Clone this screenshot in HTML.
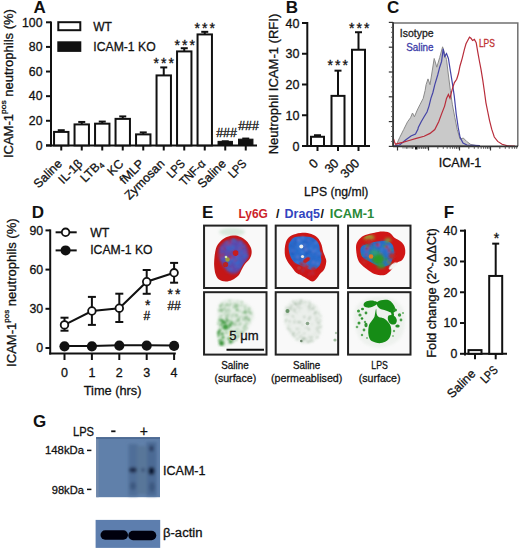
<!DOCTYPE html>
<html><head><meta charset="utf-8"><style>
html,body{margin:0;padding:0;background:#fff;}
svg{display:block;font-family:"Liberation Sans", sans-serif;}
</style></head><body>
<svg width="520" height="550" viewBox="0 0 520 550">
<rect width="520" height="550" fill="#fff"/>
<text x="33.4" y="12.9" font-size="17" text-anchor="start" fill="#111" font-weight="bold">A</text>
<line x1="51" y1="21.5" x2="51" y2="146.5" stroke="#111" stroke-width="2"/>
<line x1="46" y1="145.4" x2="257" y2="145.4" stroke="#111" stroke-width="2"/>
<line x1="46" y1="145.4" x2="51" y2="145.4" stroke="#111" stroke-width="2"/>
<text x="42.5" y="149.70000000000002" font-size="12.3" text-anchor="end" fill="#111" stroke="#111" stroke-width="0.3">0</text>
<line x1="46" y1="120.78" x2="51" y2="120.78" stroke="#111" stroke-width="2"/>
<text x="42.5" y="125.08" font-size="12.3" text-anchor="end" fill="#111" stroke="#111" stroke-width="0.3">20</text>
<line x1="46" y1="96.16" x2="51" y2="96.16" stroke="#111" stroke-width="2"/>
<text x="42.5" y="100.46" font-size="12.3" text-anchor="end" fill="#111" stroke="#111" stroke-width="0.3">40</text>
<line x1="46" y1="71.54" x2="51" y2="71.54" stroke="#111" stroke-width="2"/>
<text x="42.5" y="75.84" font-size="12.3" text-anchor="end" fill="#111" stroke="#111" stroke-width="0.3">60</text>
<line x1="46" y1="46.92" x2="51" y2="46.92" stroke="#111" stroke-width="2"/>
<text x="42.5" y="51.22" font-size="12.3" text-anchor="end" fill="#111" stroke="#111" stroke-width="0.3">80</text>
<line x1="46" y1="22.299999999999997" x2="51" y2="22.299999999999997" stroke="#111" stroke-width="2"/>
<text x="42.5" y="26.599999999999998" font-size="12.3" text-anchor="end" fill="#111" stroke="#111" stroke-width="0.3">100</text>
<line x1="61.25" y1="145.4" x2="61.25" y2="150.5" stroke="#111" stroke-width="2"/>
<line x1="61.25" y1="131.92040000000003" x2="61.25" y2="130.197" stroke="#111" stroke-width="2"/>
<line x1="57.75" y1="130.197" x2="64.75" y2="130.197" stroke="#111" stroke-width="2"/>
<rect x="54.05" y="131.92040000000003" width="14.4" height="13.479599999999976" fill="#fff" stroke="#111" stroke-width="2"/>
<line x1="81.75" y1="145.4" x2="81.75" y2="150.5" stroke="#111" stroke-width="2"/>
<line x1="81.75" y1="124.4113" x2="81.75" y2="121.94930000000001" stroke="#111" stroke-width="2"/>
<line x1="78.25" y1="121.94930000000001" x2="85.25" y2="121.94930000000001" stroke="#111" stroke-width="2"/>
<rect x="74.55" y="124.4113" width="14.4" height="20.98870000000001" fill="#fff" stroke="#111" stroke-width="2"/>
<line x1="102.25" y1="145.4" x2="102.25" y2="150.5" stroke="#111" stroke-width="2"/>
<line x1="102.25" y1="123.6727" x2="102.25" y2="121.58" stroke="#111" stroke-width="2"/>
<line x1="98.75" y1="121.58" x2="105.75" y2="121.58" stroke="#111" stroke-width="2"/>
<rect x="95.05" y="123.6727" width="14.4" height="21.7273" fill="#fff" stroke="#111" stroke-width="2"/>
<line x1="122.75" y1="145.4" x2="122.75" y2="150.5" stroke="#111" stroke-width="2"/>
<line x1="122.75" y1="118.8718" x2="122.75" y2="116.4098" stroke="#111" stroke-width="2"/>
<line x1="119.25" y1="116.4098" x2="126.25" y2="116.4098" stroke="#111" stroke-width="2"/>
<rect x="115.55" y="118.8718" width="14.4" height="26.528200000000012" fill="#fff" stroke="#111" stroke-width="2"/>
<line x1="143.25" y1="145.4" x2="143.25" y2="150.5" stroke="#111" stroke-width="2"/>
<line x1="143.25" y1="134.38240000000002" x2="143.25" y2="132.4128" stroke="#111" stroke-width="2"/>
<line x1="139.75" y1="132.4128" x2="146.75" y2="132.4128" stroke="#111" stroke-width="2"/>
<rect x="136.05" y="134.38240000000002" width="14.4" height="11.017599999999987" fill="#fff" stroke="#111" stroke-width="2"/>
<line x1="163.75" y1="145.4" x2="163.75" y2="150.5" stroke="#111" stroke-width="2"/>
<line x1="163.75" y1="75.4175" x2="163.75" y2="67.416" stroke="#111" stroke-width="2"/>
<line x1="160.25" y1="67.416" x2="167.25" y2="67.416" stroke="#111" stroke-width="2"/>
<rect x="156.55" y="75.4175" width="14.4" height="69.9825" fill="#fff" stroke="#111" stroke-width="2"/>
<line x1="184.25" y1="145.4" x2="184.25" y2="150.5" stroke="#111" stroke-width="2"/>
<line x1="184.25" y1="51.413" x2="184.25" y2="48.2124" stroke="#111" stroke-width="2"/>
<line x1="180.75" y1="48.2124" x2="187.75" y2="48.2124" stroke="#111" stroke-width="2"/>
<rect x="177.05" y="51.413" width="14.4" height="93.98700000000001" fill="#fff" stroke="#111" stroke-width="2"/>
<line x1="204.75" y1="145.4" x2="204.75" y2="150.5" stroke="#111" stroke-width="2"/>
<line x1="204.75" y1="34.425200000000004" x2="204.75" y2="31.840099999999996" stroke="#111" stroke-width="2"/>
<line x1="201.25" y1="31.840099999999996" x2="208.25" y2="31.840099999999996" stroke="#111" stroke-width="2"/>
<rect x="197.55" y="34.425200000000004" width="14.4" height="110.9748" fill="#fff" stroke="#111" stroke-width="2"/>
<line x1="225.25" y1="145.4" x2="225.25" y2="150.5" stroke="#111" stroke-width="2"/>
<rect x="218.05" y="141.3915" width="14.4" height="4.008499999999998" fill="#111" stroke="#111" stroke-width="1"/>
<line x1="221.75" y1="141.276" x2="228.75" y2="141.276" stroke="#111" stroke-width="2"/>
<line x1="245.75" y1="145.4" x2="245.75" y2="150.5" stroke="#111" stroke-width="2"/>
<rect x="238.55" y="139.1757" width="14.4" height="6.2242999999999995" fill="#111" stroke="#111" stroke-width="1"/>
<line x1="242.25" y1="138.5678" x2="249.25" y2="138.5678" stroke="#111" stroke-width="2"/>
<text x="62.8" y="164.5" font-size="12.3" text-anchor="end" fill="#111" stroke="#111" stroke-width="0.3" transform="rotate(-45 62.8 164.5)">Saline</text>
<text x="83.3" y="164.5" font-size="12.3" text-anchor="end" fill="#111" stroke="#111" stroke-width="0.3" transform="rotate(-45 83.3 164.5)">IL-1β</text>
<text x="103.8" y="164.5" font-size="12.3" text-anchor="end" fill="#111" stroke="#111" stroke-width="0.3" transform="rotate(-45 103.8 164.5)">LTB<tspan font-size="8" dy="2">4</tspan></text>
<text x="124.3" y="164.5" font-size="12.3" text-anchor="end" fill="#111" stroke="#111" stroke-width="0.3" transform="rotate(-45 124.3 164.5)">KC</text>
<text x="144.8" y="164.5" font-size="12.3" text-anchor="end" fill="#111" stroke="#111" stroke-width="0.3" transform="rotate(-45 144.8 164.5)">fMLP</text>
<text x="165.3" y="164.5" font-size="12.3" text-anchor="end" fill="#111" stroke="#111" stroke-width="0.3" transform="rotate(-45 165.3 164.5)">Zymosan</text>
<text x="185.8" y="164.5" font-size="12.3" text-anchor="end" fill="#111" stroke="#111" stroke-width="0.3" textLength="20" lengthAdjust="spacingAndGlyphs" transform="rotate(-45 185.8 164.5)">LPS</text>
<text x="206.3" y="164.5" font-size="12.3" text-anchor="end" fill="#111" stroke="#111" stroke-width="0.3" textLength="31" lengthAdjust="spacingAndGlyphs" transform="rotate(-45 206.3 164.5)">TNF-α</text>
<text x="226.8" y="164.5" font-size="12.3" text-anchor="end" fill="#111" stroke="#111" stroke-width="0.3" transform="rotate(-45 226.8 164.5)">Saline</text>
<text x="247.3" y="164.5" font-size="12.3" text-anchor="end" fill="#111" stroke="#111" stroke-width="0.3" textLength="20" lengthAdjust="spacingAndGlyphs" transform="rotate(-45 247.3 164.5)">LPS</text>
<text x="164.8" y="67.5" font-size="14" text-anchor="middle" fill="#111" stroke="#111" stroke-width="0.3" letter-spacing="2">***</text>
<text x="185.8" y="50" font-size="14" text-anchor="middle" fill="#111" stroke="#111" stroke-width="0.3" letter-spacing="2">***</text>
<text x="205.8" y="33" font-size="14" text-anchor="middle" fill="#111" stroke="#111" stroke-width="0.3" letter-spacing="2">***</text>
<text x="226.5" y="136.5" font-size="12.4" text-anchor="middle" fill="#111" stroke="#111" stroke-width="0.3">###</text>
<text x="248.5" y="130" font-size="12.4" text-anchor="middle" fill="#111" stroke="#111" stroke-width="0.3">###</text>
<rect x="58.3" y="22.2" width="22" height="8" fill="#fff" stroke="#111" stroke-width="2"/>
<rect x="57.3" y="41.3" width="24" height="10.6" fill="#111" stroke="none" stroke-width="0"/>
<text x="93.3" y="30.5" font-size="12" text-anchor="start" fill="#111" stroke="#111" stroke-width="0.3">WT</text>
<text x="93.3" y="51.3" font-size="13" text-anchor="start" fill="#111" stroke="#111" stroke-width="0.3" textLength="62.4" lengthAdjust="spacingAndGlyphs">ICAM-1 KO</text>
<text x="12.6" y="83.6" font-size="12.3" text-anchor="middle" fill="#111" stroke="#111" stroke-width="0.3" textLength="149" lengthAdjust="spacingAndGlyphs" transform="rotate(-90 12.6 83.6)">ICAM-1<tspan font-size="8" dy="-6.3">pos</tspan><tspan dy="6.3"> neutrophils (%)</tspan></text>
<text x="285.7" y="12.9" font-size="17" text-anchor="start" fill="#111" font-weight="bold">B</text>
<line x1="307.3" y1="22" x2="307.3" y2="147" stroke="#111" stroke-width="2"/>
<line x1="306.3" y1="146" x2="370" y2="146" stroke="#111" stroke-width="2"/>
<line x1="302" y1="146.0" x2="307.3" y2="146.0" stroke="#111" stroke-width="2"/>
<text x="299.5" y="150.5" font-size="12.5" text-anchor="end" fill="#111" stroke="#111" stroke-width="0.3">0</text>
<line x1="302" y1="115.25" x2="307.3" y2="115.25" stroke="#111" stroke-width="2"/>
<text x="299.5" y="119.75" font-size="12.5" text-anchor="end" fill="#111" stroke="#111" stroke-width="0.3">10</text>
<line x1="302" y1="84.5" x2="307.3" y2="84.5" stroke="#111" stroke-width="2"/>
<text x="299.5" y="89.0" font-size="12.5" text-anchor="end" fill="#111" stroke="#111" stroke-width="0.3">20</text>
<line x1="302" y1="53.75" x2="307.3" y2="53.75" stroke="#111" stroke-width="2"/>
<text x="299.5" y="58.25" font-size="12.5" text-anchor="end" fill="#111" stroke="#111" stroke-width="0.3">30</text>
<line x1="302" y1="23.0" x2="307.3" y2="23.0" stroke="#111" stroke-width="2"/>
<text x="299.5" y="27.5" font-size="12.5" text-anchor="end" fill="#111" stroke="#111" stroke-width="0.3">40</text>
<line x1="317.5" y1="136.775" x2="317.5" y2="135.2375" stroke="#111" stroke-width="2"/>
<line x1="314.0" y1="135.2375" x2="321.0" y2="135.2375" stroke="#111" stroke-width="2"/>
<rect x="311.0" y="136.775" width="13" height="9.224999999999994" fill="#fff" stroke="#111" stroke-width="2"/>
<line x1="317.5" y1="146" x2="317.5" y2="151" stroke="#111" stroke-width="2"/>
<line x1="338" y1="95.8775" x2="338" y2="70.6625" stroke="#111" stroke-width="2"/>
<line x1="334.5" y1="70.6625" x2="341.5" y2="70.6625" stroke="#111" stroke-width="2"/>
<rect x="331.5" y="95.8775" width="13" height="50.1225" fill="#fff" stroke="#111" stroke-width="2"/>
<line x1="338" y1="146" x2="338" y2="151" stroke="#111" stroke-width="2"/>
<line x1="358.5" y1="49.7525" x2="358.5" y2="32.224999999999994" stroke="#111" stroke-width="2"/>
<line x1="355.0" y1="32.224999999999994" x2="362.0" y2="32.224999999999994" stroke="#111" stroke-width="2"/>
<rect x="352.0" y="49.7525" width="13" height="96.2475" fill="#fff" stroke="#111" stroke-width="2"/>
<line x1="358.5" y1="146" x2="358.5" y2="151" stroke="#111" stroke-width="2"/>
<text x="319.0" y="164" font-size="12.5" text-anchor="end" fill="#111" stroke="#111" stroke-width="0.3" transform="rotate(-45 319.0 164)">0</text>
<text x="339.5" y="164" font-size="12.5" text-anchor="end" fill="#111" stroke="#111" stroke-width="0.3" transform="rotate(-45 339.5 164)">30</text>
<text x="360.25" y="164" font-size="12.5" text-anchor="end" fill="#111" stroke="#111" stroke-width="0.3" transform="rotate(-45 360.25 164)">300</text>
<text x="338.8" y="70" font-size="14" text-anchor="middle" fill="#111" stroke="#111" stroke-width="0.3" letter-spacing="2">***</text>
<text x="360.3" y="32.5" font-size="14" text-anchor="middle" fill="#111" stroke="#111" stroke-width="0.3" letter-spacing="2">***</text>
<text x="336.2" y="195.6" font-size="13" text-anchor="middle" fill="#111" stroke="#111" stroke-width="0.3" textLength="64.5" lengthAdjust="spacingAndGlyphs">LPS (ng/ml)</text>
<text x="277.6" y="84" font-size="12.3" text-anchor="middle" fill="#111" stroke="#111" stroke-width="0.3" textLength="140.6" lengthAdjust="spacingAndGlyphs" transform="rotate(-90 277.6 84)">Neutrophil ICAM-1 (RFI)</text>
<text x="387.1" y="13" font-size="17" text-anchor="start" fill="#111" font-weight="bold">C</text>
<polygon points="395.5,146.0 396.5,144.5 399.8,137.3 403.7,129.5 407.6,121.7 410.5,117.8 412.5,113.0 414.4,116.8 417.3,110.0 420.2,104.2 423.2,98.4 425.1,90.6 426.1,84.7 428.0,78.9 430.0,84.7 431.9,73.0 434.2,58.5 436.8,67.2 439.7,57.5 442.6,46.8 444.6,53.6 446.5,59.5 448.4,75.0 450.4,90.6 452.3,104.2 454.9,117.8 457.2,129.5 460.1,139.2 463.3,138.0 466.6,141.4 470.8,144.5 476.0,145.5" fill="#c9c9c9" stroke="#8a8a8a" stroke-width="1"/>
<polyline points="393.5,146.0 399.6,145.0 405.9,139.8 411.0,136.0 415.5,134.1 418.0,129.0 418.3,127.5 421.2,121.7 424.1,116.8 427.0,112.0 429.0,106.1 430.9,98.4 432.9,92.5 434.8,84.7 437.7,75.0 439.7,67.2 441.6,61.4 443.2,48.8 444.6,56.5 446.5,53.6 448.4,58.5 450.4,71.1 452.3,82.8 454.3,96.4 456.2,113.9 458.2,127.5 460.1,137.3 463.0,143.1 466.9,145.0 480.0,145.6" fill="none" stroke="#4444a6" stroke-width="1.2"/>
<polyline points="393.6,139.0 394.4,141.5 395.4,144.2 402.7,142.4 409.1,140.5 416.3,138.4 424.1,136.3 430.0,133.4 434.8,129.5 438.7,121.7 441.6,113.9 444.6,106.1 446.5,98.4 448.4,94.5 450.0,98.2 452.2,89.3 454.4,82.6 456.7,79.3 458.4,73.8 460.0,66.0 462.2,58.3 464.4,49.4 466.0,43.8 467.7,40.5 469.5,37.2 471.0,38.3 472.6,40.5 474.4,39.4 476.2,42.7 477.7,51.6 479.3,60.5 481.0,69.3 482.8,80.4 484.4,91.5 485.9,102.6 487.7,111.5 489.5,120.3 491.7,129.2 494.3,137.0 497.7,141.4 502.1,144.3 507.6,145.8 515.0,146.0" fill="none" stroke="#b82c3a" stroke-width="1.2"/>
<path d="M393.1,146.3 V22.9 H517.8 V146.3" fill="none" stroke="#707070" stroke-width="1.5"/>
<line x1="393.1" y1="22.2" x2="393.1" y2="147" stroke="#333" stroke-width="1.6"/>
<line x1="393" y1="146.4" x2="518" y2="146.4" stroke="#333" stroke-width="1.6"/>
<line x1="388.8" y1="146.4" x2="393.1" y2="146.4" stroke="#333" stroke-width="1.2"/>
<line x1="391.2" y1="141.44" x2="393.1" y2="141.44" stroke="#555" stroke-width="1"/>
<line x1="391.2" y1="136.48000000000002" x2="393.1" y2="136.48000000000002" stroke="#555" stroke-width="1"/>
<line x1="391.2" y1="131.52" x2="393.1" y2="131.52" stroke="#555" stroke-width="1"/>
<line x1="391.2" y1="126.56" x2="393.1" y2="126.56" stroke="#555" stroke-width="1"/>
<line x1="388.8" y1="121.60000000000001" x2="393.1" y2="121.60000000000001" stroke="#333" stroke-width="1.2"/>
<line x1="391.2" y1="116.64000000000001" x2="393.1" y2="116.64000000000001" stroke="#555" stroke-width="1"/>
<line x1="391.2" y1="111.68" x2="393.1" y2="111.68" stroke="#555" stroke-width="1"/>
<line x1="391.2" y1="106.72" x2="393.1" y2="106.72" stroke="#555" stroke-width="1"/>
<line x1="391.2" y1="101.76" x2="393.1" y2="101.76" stroke="#555" stroke-width="1"/>
<line x1="388.8" y1="96.80000000000001" x2="393.1" y2="96.80000000000001" stroke="#333" stroke-width="1.2"/>
<line x1="391.2" y1="91.84" x2="393.1" y2="91.84" stroke="#555" stroke-width="1"/>
<line x1="391.2" y1="86.88000000000001" x2="393.1" y2="86.88000000000001" stroke="#555" stroke-width="1"/>
<line x1="391.2" y1="81.92" x2="393.1" y2="81.92" stroke="#555" stroke-width="1"/>
<line x1="391.2" y1="76.96000000000001" x2="393.1" y2="76.96000000000001" stroke="#555" stroke-width="1"/>
<line x1="388.8" y1="72.0" x2="393.1" y2="72.0" stroke="#333" stroke-width="1.2"/>
<line x1="391.2" y1="67.04" x2="393.1" y2="67.04" stroke="#555" stroke-width="1"/>
<line x1="391.2" y1="62.08000000000001" x2="393.1" y2="62.08000000000001" stroke="#555" stroke-width="1"/>
<line x1="391.2" y1="57.120000000000005" x2="393.1" y2="57.120000000000005" stroke="#555" stroke-width="1"/>
<line x1="391.2" y1="52.16000000000001" x2="393.1" y2="52.16000000000001" stroke="#555" stroke-width="1"/>
<line x1="388.8" y1="47.2" x2="393.1" y2="47.2" stroke="#333" stroke-width="1.2"/>
<line x1="391.2" y1="42.24000000000001" x2="393.1" y2="42.24000000000001" stroke="#555" stroke-width="1"/>
<line x1="391.2" y1="37.28" x2="393.1" y2="37.28" stroke="#555" stroke-width="1"/>
<line x1="391.2" y1="32.32000000000001" x2="393.1" y2="32.32000000000001" stroke="#555" stroke-width="1"/>
<line x1="391.2" y1="27.360000000000014" x2="393.1" y2="27.360000000000014" stroke="#555" stroke-width="1"/>
<line x1="388.8" y1="22.400000000000006" x2="393.1" y2="22.400000000000006" stroke="#333" stroke-width="1.2"/>
<line x1="397.5" y1="146.4" x2="397.5" y2="150.5" stroke="#333" stroke-width="1.2"/>
<line x1="406.8319298655834" y1="146.4" x2="406.8319298655834" y2="148.8" stroke="#444" stroke-width="0.9"/>
<line x1="412.2907588963095" y1="146.4" x2="412.2907588963095" y2="148.8" stroke="#444" stroke-width="0.9"/>
<line x1="416.16385973116684" y1="146.4" x2="416.16385973116684" y2="148.8" stroke="#444" stroke-width="0.9"/>
<line x1="419.1680701344166" y1="146.4" x2="419.1680701344166" y2="148.8" stroke="#444" stroke-width="0.9"/>
<line x1="421.62268876189296" y1="146.4" x2="421.62268876189296" y2="148.8" stroke="#444" stroke-width="0.9"/>
<line x1="423.698039240442" y1="146.4" x2="423.698039240442" y2="148.8" stroke="#444" stroke-width="0.9"/>
<line x1="425.4957895967502" y1="146.4" x2="425.4957895967502" y2="148.8" stroke="#444" stroke-width="0.9"/>
<line x1="427.0815177926191" y1="146.4" x2="427.0815177926191" y2="148.8" stroke="#444" stroke-width="0.9"/>
<line x1="428.5" y1="146.4" x2="428.5" y2="150.5" stroke="#333" stroke-width="1.2"/>
<line x1="437.8319298655834" y1="146.4" x2="437.8319298655834" y2="148.8" stroke="#444" stroke-width="0.9"/>
<line x1="443.2907588963095" y1="146.4" x2="443.2907588963095" y2="148.8" stroke="#444" stroke-width="0.9"/>
<line x1="447.16385973116684" y1="146.4" x2="447.16385973116684" y2="148.8" stroke="#444" stroke-width="0.9"/>
<line x1="450.1680701344166" y1="146.4" x2="450.1680701344166" y2="148.8" stroke="#444" stroke-width="0.9"/>
<line x1="452.62268876189296" y1="146.4" x2="452.62268876189296" y2="148.8" stroke="#444" stroke-width="0.9"/>
<line x1="454.698039240442" y1="146.4" x2="454.698039240442" y2="148.8" stroke="#444" stroke-width="0.9"/>
<line x1="456.4957895967502" y1="146.4" x2="456.4957895967502" y2="148.8" stroke="#444" stroke-width="0.9"/>
<line x1="458.0815177926191" y1="146.4" x2="458.0815177926191" y2="148.8" stroke="#444" stroke-width="0.9"/>
<line x1="459.5" y1="146.4" x2="459.5" y2="150.5" stroke="#333" stroke-width="1.2"/>
<line x1="468.8319298655834" y1="146.4" x2="468.8319298655834" y2="148.8" stroke="#444" stroke-width="0.9"/>
<line x1="474.2907588963095" y1="146.4" x2="474.2907588963095" y2="148.8" stroke="#444" stroke-width="0.9"/>
<line x1="478.16385973116684" y1="146.4" x2="478.16385973116684" y2="148.8" stroke="#444" stroke-width="0.9"/>
<line x1="481.1680701344166" y1="146.4" x2="481.1680701344166" y2="148.8" stroke="#444" stroke-width="0.9"/>
<line x1="483.62268876189296" y1="146.4" x2="483.62268876189296" y2="148.8" stroke="#444" stroke-width="0.9"/>
<line x1="485.698039240442" y1="146.4" x2="485.698039240442" y2="148.8" stroke="#444" stroke-width="0.9"/>
<line x1="487.4957895967502" y1="146.4" x2="487.4957895967502" y2="148.8" stroke="#444" stroke-width="0.9"/>
<line x1="489.0815177926191" y1="146.4" x2="489.0815177926191" y2="148.8" stroke="#444" stroke-width="0.9"/>
<line x1="490.5" y1="146.4" x2="490.5" y2="150.5" stroke="#333" stroke-width="1.2"/>
<line x1="499.8319298655834" y1="146.4" x2="499.8319298655834" y2="148.8" stroke="#444" stroke-width="0.9"/>
<line x1="505.2907588963095" y1="146.4" x2="505.2907588963095" y2="148.8" stroke="#444" stroke-width="0.9"/>
<line x1="509.16385973116684" y1="146.4" x2="509.16385973116684" y2="148.8" stroke="#444" stroke-width="0.9"/>
<line x1="512.1680701344166" y1="146.4" x2="512.1680701344166" y2="148.8" stroke="#444" stroke-width="0.9"/>
<line x1="514.622688761893" y1="146.4" x2="514.622688761893" y2="148.8" stroke="#444" stroke-width="0.9"/>
<line x1="516.698039240442" y1="146.4" x2="516.698039240442" y2="148.8" stroke="#444" stroke-width="0.9"/>
<rect x="415" y="147" width="2.5" height="2.5" fill="#111" stroke="none" stroke-width="0"/>
<line x1="403" y1="146.4" x2="403" y2="148.6" stroke="#555" stroke-width="0.8"/>
<line x1="405" y1="146.4" x2="405" y2="148.6" stroke="#555" stroke-width="0.8"/>
<line x1="407" y1="146.4" x2="407" y2="148.6" stroke="#555" stroke-width="0.8"/>
<line x1="409" y1="146.4" x2="409" y2="148.6" stroke="#555" stroke-width="0.8"/>
<line x1="411" y1="146.4" x2="411" y2="148.6" stroke="#555" stroke-width="0.8"/>
<line x1="413" y1="146.4" x2="413" y2="148.6" stroke="#555" stroke-width="0.8"/>
<line x1="419" y1="146.4" x2="419" y2="148.6" stroke="#555" stroke-width="0.8"/>
<line x1="421" y1="146.4" x2="421" y2="148.6" stroke="#555" stroke-width="0.8"/>
<line x1="423" y1="146.4" x2="423" y2="148.6" stroke="#555" stroke-width="0.8"/>
<line x1="425" y1="146.4" x2="425" y2="148.6" stroke="#555" stroke-width="0.8"/>
<text x="399.8" y="37.2" font-size="11" text-anchor="start" fill="#222" stroke="#222" stroke-width="0.3" textLength="33.8" lengthAdjust="spacingAndGlyphs">Isotype</text>
<text x="406.2" y="51.2" font-size="11" text-anchor="start" fill="#3c3ca8" stroke="#3c3ca8" stroke-width="0.3" textLength="27.4" lengthAdjust="spacingAndGlyphs">Saline</text>
<text x="478.9" y="47.3" font-size="10.5" text-anchor="start" fill="#c03030" stroke="#c03030" stroke-width="0.3" textLength="16" lengthAdjust="spacingAndGlyphs">LPS</text>
<text x="438.8" y="167" font-size="12" text-anchor="start" fill="#111" stroke="#111" stroke-width="0.3" textLength="42.5" lengthAdjust="spacingAndGlyphs">ICAM-1</text>
<text x="31.7" y="218" font-size="17" text-anchor="start" fill="#111" font-weight="bold">D</text>
<line x1="50.2" y1="229.4" x2="50.2" y2="354.5" stroke="#111" stroke-width="2"/>
<line x1="49.2" y1="353.5" x2="175.8" y2="353.5" stroke="#111" stroke-width="2"/>
<line x1="45.5" y1="348.0" x2="50.2" y2="348.0" stroke="#111" stroke-width="2"/>
<text x="43.2" y="352.3" font-size="12.3" text-anchor="end" fill="#111" stroke="#111" stroke-width="0.3">0</text>
<line x1="45.5" y1="308.8" x2="50.2" y2="308.8" stroke="#111" stroke-width="2"/>
<text x="43.2" y="313.1" font-size="12.3" text-anchor="end" fill="#111" stroke="#111" stroke-width="0.3">30</text>
<line x1="45.5" y1="269.6" x2="50.2" y2="269.6" stroke="#111" stroke-width="2"/>
<text x="43.2" y="273.90000000000003" font-size="12.3" text-anchor="end" fill="#111" stroke="#111" stroke-width="0.3">60</text>
<line x1="45.5" y1="230.39999999999998" x2="50.2" y2="230.39999999999998" stroke="#111" stroke-width="2"/>
<text x="43.2" y="234.7" font-size="12.3" text-anchor="end" fill="#111" stroke="#111" stroke-width="0.3">90</text>
<line x1="64.5" y1="353.5" x2="64.5" y2="360" stroke="#111" stroke-width="2"/>
<text x="64.5" y="377" font-size="12.5" text-anchor="middle" fill="#111" stroke="#111" stroke-width="0.3">0</text>
<line x1="91.9" y1="353.5" x2="91.9" y2="360" stroke="#111" stroke-width="2"/>
<text x="91.9" y="377" font-size="12.5" text-anchor="middle" fill="#111" stroke="#111" stroke-width="0.3">1</text>
<line x1="119.3" y1="353.5" x2="119.3" y2="360" stroke="#111" stroke-width="2"/>
<text x="119.3" y="377" font-size="12.5" text-anchor="middle" fill="#111" stroke="#111" stroke-width="0.3">2</text>
<line x1="146.7" y1="353.5" x2="146.7" y2="360" stroke="#111" stroke-width="2"/>
<text x="146.7" y="377" font-size="12.5" text-anchor="middle" fill="#111" stroke="#111" stroke-width="0.3">3</text>
<line x1="174.1" y1="353.5" x2="174.1" y2="360" stroke="#111" stroke-width="2"/>
<text x="174.1" y="377" font-size="12.5" text-anchor="middle" fill="#111" stroke="#111" stroke-width="0.3">4</text>
<text x="112.6" y="395.2" font-size="13" text-anchor="middle" fill="#111" stroke="#111" stroke-width="0.3" textLength="57.7" lengthAdjust="spacingAndGlyphs">Time (hrs)</text>
<polyline points="64.5,346 91.9,346 119.3,345.3 146.7,345.3 174.1,345.6" fill="none" stroke="#111" stroke-width="2"/>
<circle cx="64.5" cy="346.3" r="5.1" fill="#111"/>
<circle cx="91.9" cy="346.3" r="5.1" fill="#111"/>
<circle cx="119.3" cy="345.6" r="5.1" fill="#111"/>
<circle cx="146.7" cy="345.6" r="5.1" fill="#111"/>
<circle cx="174.1" cy="345.90000000000003" r="5.1" fill="#111"/>
<line x1="64.5" y1="317.7" x2="64.5" y2="330.7" stroke="#111" stroke-width="2"/>
<line x1="60.5" y1="317.7" x2="68.5" y2="317.7" stroke="#111" stroke-width="2"/>
<line x1="60.5" y1="330.7" x2="68.5" y2="330.7" stroke="#111" stroke-width="2"/>
<line x1="91.9" y1="296.9" x2="91.9" y2="324.9" stroke="#111" stroke-width="2"/>
<line x1="87.9" y1="296.9" x2="95.9" y2="296.9" stroke="#111" stroke-width="2"/>
<line x1="87.9" y1="324.9" x2="95.9" y2="324.9" stroke="#111" stroke-width="2"/>
<line x1="119.3" y1="293.7" x2="119.3" y2="322" stroke="#111" stroke-width="2"/>
<line x1="115.3" y1="293.7" x2="123.3" y2="293.7" stroke="#111" stroke-width="2"/>
<line x1="115.3" y1="322" x2="123.3" y2="322" stroke="#111" stroke-width="2"/>
<line x1="146.7" y1="270" x2="146.7" y2="293.8" stroke="#111" stroke-width="2"/>
<line x1="142.7" y1="270" x2="150.7" y2="270" stroke="#111" stroke-width="2"/>
<line x1="142.7" y1="293.8" x2="150.7" y2="293.8" stroke="#111" stroke-width="2"/>
<line x1="174.1" y1="262.9" x2="174.1" y2="282.7" stroke="#111" stroke-width="2"/>
<line x1="170.1" y1="262.9" x2="178.1" y2="262.9" stroke="#111" stroke-width="2"/>
<line x1="170.1" y1="282.7" x2="178.1" y2="282.7" stroke="#111" stroke-width="2"/>
<polyline points="64.5,324.9 91.9,311 119.3,308.2 146.7,281.7 174.1,272.8" fill="none" stroke="#111" stroke-width="2"/>
<circle cx="64.5" cy="324.9" r="3.8" fill="#fff" stroke="#111" stroke-width="1.8"/>
<circle cx="91.9" cy="311" r="3.8" fill="#fff" stroke="#111" stroke-width="1.8"/>
<circle cx="119.3" cy="308.2" r="3.8" fill="#fff" stroke="#111" stroke-width="1.8"/>
<circle cx="146.7" cy="281.7" r="3.8" fill="#fff" stroke="#111" stroke-width="1.8"/>
<circle cx="174.1" cy="272.8" r="3.8" fill="#fff" stroke="#111" stroke-width="1.8"/>
<text x="147.7" y="309.8" font-size="14" text-anchor="middle" fill="#111" stroke="#111" stroke-width="0.3">*</text>
<text x="146.8" y="319.9" font-size="12" text-anchor="middle" fill="#111" stroke="#111" stroke-width="0.3">#</text>
<text x="175" y="299" font-size="14" text-anchor="middle" fill="#111" stroke="#111" stroke-width="0.3" letter-spacing="2">**</text>
<text x="174.1" y="309.7" font-size="12" text-anchor="middle" fill="#111" stroke="#111" stroke-width="0.3">##</text>
<line x1="55.6" y1="232.3" x2="76.7" y2="232.3" stroke="#111" stroke-width="2"/>
<circle cx="65.6" cy="232.3" r="3.8" fill="#fff" stroke="#111" stroke-width="1.8"/>
<line x1="55.6" y1="250.4" x2="76.7" y2="250.4" stroke="#111" stroke-width="2"/>
<circle cx="65.6" cy="250.4" r="5" fill="#111"/>
<text x="90.2" y="236.5" font-size="12.3" text-anchor="start" fill="#111" stroke="#111" stroke-width="0.3">WT</text>
<text x="90.2" y="254.4" font-size="13" text-anchor="start" fill="#111" stroke="#111" stroke-width="0.3" textLength="62.4" lengthAdjust="spacingAndGlyphs">ICAM-1 KO</text>
<text x="16.4" y="292.65" font-size="12.8" text-anchor="middle" fill="#111" stroke="#111" stroke-width="0.3" textLength="148.5" lengthAdjust="spacingAndGlyphs" transform="rotate(-90 16.4 292.65)">ICAM-1<tspan font-size="7.8" dy="-7">pos</tspan><tspan dy="7"> neutrophils (%)</tspan></text>
<text x="443.7" y="218" font-size="17" text-anchor="start" fill="#111" font-weight="bold">F</text>
<line x1="465.0" y1="229.4" x2="465.0" y2="355.4" stroke="#111" stroke-width="2"/>
<line x1="464.0" y1="353.8" x2="507" y2="353.8" stroke="#111" stroke-width="2"/>
<line x1="460" y1="353.8" x2="465.0" y2="353.8" stroke="#111" stroke-width="2"/>
<text x="457.3" y="358.1" font-size="12.3" text-anchor="end" fill="#111" stroke="#111" stroke-width="0.3">0</text>
<line x1="460" y1="323.03000000000003" x2="465.0" y2="323.03000000000003" stroke="#111" stroke-width="2"/>
<text x="457.3" y="327.33000000000004" font-size="12.3" text-anchor="end" fill="#111" stroke="#111" stroke-width="0.3">10</text>
<line x1="460" y1="292.26" x2="465.0" y2="292.26" stroke="#111" stroke-width="2"/>
<text x="457.3" y="296.56" font-size="12.3" text-anchor="end" fill="#111" stroke="#111" stroke-width="0.3">20</text>
<line x1="460" y1="261.49" x2="465.0" y2="261.49" stroke="#111" stroke-width="2"/>
<text x="457.3" y="265.79" font-size="12.3" text-anchor="end" fill="#111" stroke="#111" stroke-width="0.3">30</text>
<line x1="460" y1="230.72000000000003" x2="465.0" y2="230.72000000000003" stroke="#111" stroke-width="2"/>
<text x="457.3" y="235.02000000000004" font-size="12.3" text-anchor="end" fill="#111" stroke="#111" stroke-width="0.3">40</text>
<rect x="468.5" y="350.1076" width="13" height="3.6924000000000206" fill="#fff" stroke="#111" stroke-width="2"/>
<line x1="475" y1="353.8" x2="475" y2="359.3" stroke="#111" stroke-width="2"/>
<line x1="495.7" y1="275.9519" x2="495.7" y2="243.64340000000004" stroke="#111" stroke-width="2"/>
<line x1="492.2" y1="243.64340000000004" x2="499.2" y2="243.64340000000004" stroke="#111" stroke-width="2"/>
<rect x="489.2" y="275.9519" width="13" height="77.84809999999999" fill="#fff" stroke="#111" stroke-width="2"/>
<line x1="495.7" y1="353.8" x2="495.7" y2="359.3" stroke="#111" stroke-width="2"/>
<text x="496.5" y="243.2" font-size="14" text-anchor="middle" fill="#111" stroke="#111" stroke-width="0.3">*</text>
<text x="476.3" y="374.5" font-size="12.3" text-anchor="end" fill="#111" stroke="#111" stroke-width="0.3" transform="rotate(-45 476.3 374.5)">Saline</text>
<text x="498.5" y="371" font-size="12.3" text-anchor="end" fill="#111" stroke="#111" stroke-width="0.3" textLength="18.5" lengthAdjust="spacingAndGlyphs" transform="rotate(-45 498.5 371)">LPS</text>
<text x="436.4" y="293" font-size="12.6" text-anchor="middle" fill="#111" stroke="#111" stroke-width="0.3" textLength="129.5" lengthAdjust="spacingAndGlyphs" transform="rotate(-90 436.4 293)">Fold change (2^-ΔΔCt)</text>
<text x="33" y="426.6" font-size="17" text-anchor="start" fill="#111" font-weight="bold">G</text>
<text x="73" y="435.6" font-size="12" text-anchor="start" fill="#111" stroke="#111" stroke-width="0.3" textLength="21" lengthAdjust="spacingAndGlyphs">LPS</text>
<line x1="111.2" y1="431.3" x2="115.5" y2="431.3" stroke="#111" stroke-width="1.8"/>
<text x="143.8" y="435.6" font-size="14" text-anchor="middle" fill="#111" stroke="#111" stroke-width="0.3">+</text>
<rect x="96.2" y="437.2" width="63.8" height="60" fill="#6080aa" stroke="none" stroke-width="0"/>
<rect x="96.2" y="437.2" width="2.5" height="60" fill="#7088aa"/>
<rect x="96.2" y="437.2" width="63.8" height="1.6" fill="#4a6790"/>
<g filter="url(#b2)"><rect x="128.5" y="444" width="9" height="52" fill="#506e98"/><rect x="146.5" y="442" width="10" height="54" fill="#4c6a94"/><rect x="137" y="446" width="10" height="48" fill="#587699"/><ellipse cx="133" cy="470" rx="4" ry="2.8" fill="#1c2c4c"/><ellipse cx="151.5" cy="471" rx="3.2" ry="4" fill="#0c1630"/><ellipse cx="151.5" cy="448.5" rx="2.2" ry="3" fill="#2a3c60"/><ellipse cx="143" cy="470" rx="2" ry="2" fill="#3a5278"/><ellipse cx="133" cy="486" rx="3" ry="4" fill="#3e5880"/><ellipse cx="152" cy="487" rx="3" ry="5" fill="#3e5880"/></g>
<rect x="95.6" y="519.9" width="64.6" height="28" fill="#5d7eae" stroke="none" stroke-width="0"/>
<g filter="url(#b1)"><rect x="100.5" y="530.3" width="27.5" height="9.4" rx="4.7" fill="#05060c"/><rect x="128.3" y="530.8" width="28" height="9.4" rx="4.7" fill="#05060c"/></g>
<text x="84" y="454.4" font-size="11.5" text-anchor="end" fill="#111" stroke="#111" stroke-width="0.3" textLength="39" lengthAdjust="spacingAndGlyphs">148kDa</text>
<text x="84" y="493.5" font-size="11.5" text-anchor="end" fill="#111" stroke="#111" stroke-width="0.3" textLength="32.3" lengthAdjust="spacingAndGlyphs">98kDa</text>
<line x1="87" y1="450.4" x2="91.4" y2="450.4" stroke="#111" stroke-width="1.5"/>
<line x1="87" y1="489.4" x2="91.4" y2="489.4" stroke="#111" stroke-width="1.5"/>
<text x="163" y="474.5" font-size="12.5" text-anchor="start" fill="#111" stroke="#111" stroke-width="0.3" textLength="42.5" lengthAdjust="spacingAndGlyphs">ICAM-1</text>
<text x="163" y="536.5" font-size="12.5" text-anchor="start" fill="#111" stroke="#111" stroke-width="0.3" textLength="39.5" lengthAdjust="spacingAndGlyphs">β-actin</text>
<text x="202" y="218" font-size="17" text-anchor="start" fill="#111" font-weight="bold">E</text>
<defs><filter id="b1" x="-20%" y="-20%" width="140%" height="140%"><feGaussianBlur stdDeviation="0.7"/></filter><filter id="b15" x="-20%" y="-20%" width="140%" height="140%"><feGaussianBlur stdDeviation="0.9"/></filter><filter id="b2" x="-30%" y="-30%" width="160%" height="160%"><feGaussianBlur stdDeviation="1.6"/></filter><filter id="b3" x="-30%" y="-30%" width="160%" height="160%"><feGaussianBlur stdDeviation="3"/></filter></defs>
<rect x="204.05" y="225.6" width="62.45" height="62.4" fill="#f9f9f9"/>
<rect x="204.05" y="292.2" width="62.45" height="62.4" fill="#f9f9f9"/>
<rect x="275.7" y="225.6" width="62.45" height="62.4" fill="#f9f9f9"/>
<rect x="275.7" y="292.2" width="62.45" height="62.4" fill="#f9f9f9"/>
<rect x="348.05" y="225.6" width="62.45" height="62.4" fill="#f9f9f9"/>
<rect x="348.05" y="292.2" width="62.45" height="62.4" fill="#f9f9f9"/>
<ellipse cx="232" cy="232" rx="13" ry="4" fill="#b8d8c0" opacity="0.5" filter="url(#b2)"/>
<path d="M232.90,235.60 C235.57,235.32 237.73,235.90 240.00,236.80 C242.27,237.70 244.67,239.13 246.50,241.00 C248.33,242.87 250.17,245.83 251.00,248.00 C251.83,250.17 251.75,252.17 251.50,254.00 C251.25,255.83 250.58,257.33 249.50,259.00 C248.42,260.67 246.25,262.33 245.00,264.00 C243.75,265.67 243.08,267.08 242.00,269.00 C240.92,270.92 240.17,273.67 238.50,275.50 C236.83,277.33 234.15,279.00 232.00,280.00 C229.85,281.00 227.77,281.58 225.60,281.50 C223.43,281.42 220.68,280.75 219.00,279.50 C217.32,278.25 216.30,276.25 215.50,274.00 C214.70,271.75 214.40,268.42 214.20,266.00 C214.00,263.58 214.13,261.83 214.30,259.50 C214.47,257.17 214.67,254.43 215.20,252.00 C215.73,249.57 216.03,247.15 217.50,244.90 C218.97,242.65 221.43,240.05 224.00,238.50 C226.57,236.95 230.23,235.88 232.90,235.60 Z" fill="#c51515" filter="url(#b1)"/>
<clipPath id="cl1"><path d="M232.82,237.46 C235.27,237.20 237.27,237.73 239.35,238.56 C241.44,239.39 243.65,240.71 245.33,242.43 C247.02,244.14 248.71,246.87 249.47,248.87 C250.24,250.86 250.16,252.70 249.93,254.39 C249.70,256.07 249.09,257.45 248.09,258.99 C247.10,260.52 245.10,262.05 243.95,263.59 C242.80,265.12 242.19,266.42 241.19,268.19 C240.20,269.95 239.51,272.48 237.97,274.17 C236.44,275.85 233.97,277.39 231.99,278.31 C230.01,279.23 228.10,279.76 226.10,279.69 C224.11,279.61 221.58,279.00 220.03,277.85 C218.48,276.70 217.55,274.86 216.81,272.79 C216.08,270.72 215.80,267.65 215.62,265.43 C215.43,263.20 215.55,261.59 215.71,259.45 C215.86,257.30 216.05,254.78 216.54,252.55 C217.03,250.31 217.30,248.08 218.65,246.01 C220.00,243.94 222.27,241.55 224.63,240.13 C226.99,238.70 230.37,237.72 232.82,237.46 Z"/></clipPath>
<g clip-path="url(#cl1)">
<path d="M220.00,247.00 C221.17,244.75 223.67,242.75 226.00,241.50 C228.33,240.25 231.33,239.42 234.00,239.50 C236.67,239.58 239.83,240.58 242.00,242.00 C244.17,243.42 246.00,245.83 247.00,248.00 C248.00,250.17 248.17,252.67 248.00,255.00 C247.83,257.33 247.00,259.83 246.00,262.00 C245.00,264.17 243.58,266.17 242.00,268.00 C240.42,269.83 238.50,272.17 236.50,273.00 C234.50,273.83 231.92,273.83 230.00,273.00 C228.08,272.17 226.50,269.83 225.00,268.00 C223.50,266.17 222.00,264.17 221.00,262.00 C220.00,259.83 219.17,257.50 219.00,255.00 C218.83,252.50 218.83,249.25 220.00,247.00 Z" fill="#5d48ac" filter="url(#b2)"/>
<ellipse cx="238" cy="262" rx="4" ry="6" fill="#3468cc" filter="url(#b2)"/>
<ellipse cx="230" cy="248" rx="4" ry="3" fill="#4060c4" filter="url(#b2)"/>
<ellipse cx="241" cy="250" rx="3" ry="4" fill="#4a58bc" filter="url(#b2)"/>
<g filter="url(#b15)"><circle cx="232.1" cy="258.3" r="1.72" fill="#3a68c8"/><circle cx="232.1" cy="268.1" r="0.99" fill="#7a4aa0"/><circle cx="232.8" cy="260.1" r="0.99" fill="#3a68c8"/><circle cx="227.8" cy="242.5" r="1.61" fill="#b02a40"/><circle cx="237.4" cy="259.4" r="1.20" fill="#3a68c8"/><circle cx="238.0" cy="260.1" r="0.96" fill="#5d48ac"/><circle cx="236.4" cy="265.6" r="1.13" fill="#7a4aa0"/><circle cx="243.4" cy="256.9" r="1.44" fill="#3a68c8"/><circle cx="238.0" cy="253.1" r="1.35" fill="#5d48ac"/><circle cx="239.5" cy="250.1" r="1.03" fill="#6a50b0"/><circle cx="227.4" cy="241.7" r="0.82" fill="#b02a40"/><circle cx="245.4" cy="255.2" r="1.78" fill="#3a68c8"/><circle cx="231.2" cy="258.5" r="1.00" fill="#b02a40"/><circle cx="226.8" cy="242.4" r="1.13" fill="#3a68c8"/><circle cx="241.0" cy="243.5" r="1.05" fill="#5d48ac"/><circle cx="219.3" cy="255.1" r="1.29" fill="#b02a40"/><circle cx="235.2" cy="254.5" r="0.99" fill="#b02a40"/><circle cx="241.3" cy="253.5" r="1.18" fill="#3a68c8"/><circle cx="231.2" cy="246.6" r="1.07" fill="#7a4aa0"/><circle cx="227.8" cy="269.1" r="1.01" fill="#3a68c8"/><circle cx="235.7" cy="240.9" r="0.95" fill="#3a68c8"/><circle cx="226.5" cy="265.4" r="1.13" fill="#6a50b0"/><circle cx="230.2" cy="242.0" r="1.01" fill="#b02a40"/><circle cx="226.0" cy="259.6" r="1.17" fill="#3a68c8"/><circle cx="222.7" cy="259.2" r="1.63" fill="#4a58bc"/><circle cx="244.1" cy="245.6" r="0.95" fill="#4a58bc"/><circle cx="242.7" cy="247.9" r="0.99" fill="#b02a40"/><circle cx="237.2" cy="258.1" r="1.49" fill="#3a68c8"/><circle cx="244.6" cy="259.7" r="1.22" fill="#5d48ac"/><circle cx="222.2" cy="256.7" r="1.06" fill="#b02a40"/><circle cx="239.4" cy="248.1" r="1.62" fill="#7a4aa0"/><circle cx="233.2" cy="256.9" r="1.73" fill="#5d48ac"/><circle cx="222.7" cy="255.6" r="1.45" fill="#7a4aa0"/><circle cx="236.8" cy="248.9" r="1.72" fill="#4a58bc"/><circle cx="240.7" cy="241.8" r="1.21" fill="#4a58bc"/><circle cx="229.7" cy="258.7" r="0.93" fill="#6a50b0"/><circle cx="223.0" cy="254.6" r="1.13" fill="#b02a40"/><circle cx="239.0" cy="259.1" r="0.94" fill="#5d48ac"/><circle cx="245.8" cy="255.4" r="1.16" fill="#6a50b0"/><circle cx="237.4" cy="255.7" r="1.53" fill="#6a50b0"/><circle cx="232.1" cy="251.8" r="0.84" fill="#b02a40"/><circle cx="240.4" cy="243.8" r="1.76" fill="#6a50b0"/><circle cx="229.2" cy="262.5" r="1.70" fill="#3a68c8"/><circle cx="233.5" cy="240.0" r="1.46" fill="#3a68c8"/><circle cx="235.9" cy="259.9" r="0.88" fill="#b02a40"/><circle cx="222.4" cy="248.1" r="1.22" fill="#6a50b0"/><circle cx="230.3" cy="264.1" r="1.38" fill="#3a68c8"/><circle cx="232.4" cy="257.6" r="1.32" fill="#7a4aa0"/><circle cx="232.9" cy="247.2" r="1.50" fill="#3a68c8"/><circle cx="241.6" cy="261.6" r="1.29" fill="#5d48ac"/><circle cx="229.7" cy="244.3" r="1.41" fill="#7a4aa0"/><circle cx="238.1" cy="254.3" r="1.69" fill="#6a50b0"/><circle cx="230.7" cy="247.9" r="1.43" fill="#4a58bc"/><circle cx="244.5" cy="252.4" r="1.38" fill="#6a50b0"/><circle cx="225.1" cy="244.0" r="1.15" fill="#5d48ac"/><circle cx="227.0" cy="245.2" r="1.25" fill="#6a50b0"/><circle cx="230.1" cy="256.9" r="1.47" fill="#b02a40"/><circle cx="232.1" cy="242.0" r="0.83" fill="#7a4aa0"/><circle cx="235.5" cy="249.9" r="1.59" fill="#5d48ac"/><circle cx="237.6" cy="253.1" r="0.99" fill="#6a50b0"/><circle cx="225.9" cy="244.2" r="0.85" fill="#b02a40"/><circle cx="234.5" cy="260.9" r="1.17" fill="#5d48ac"/><circle cx="238.9" cy="246.2" r="1.28" fill="#4a58bc"/><circle cx="239.7" cy="264.8" r="1.33" fill="#5d48ac"/><circle cx="224.2" cy="248.6" r="1.15" fill="#b02a40"/><circle cx="246.5" cy="256.3" r="1.80" fill="#4a58bc"/><circle cx="230.4" cy="266.0" r="1.71" fill="#5d48ac"/><circle cx="230.9" cy="269.4" r="1.19" fill="#3a68c8"/><circle cx="232.2" cy="260.5" r="1.71" fill="#3a68c8"/><circle cx="235.0" cy="261.4" r="1.30" fill="#6a50b0"/></g>
<circle cx="235.6" cy="253.1" r="2.8" fill="#c81a1a" filter="url(#b1)"/>
<circle cx="225.6" cy="264.5" r="2.6" fill="#b82020" filter="url(#b1)"/>
<circle cx="227.5" cy="259.5" r="2.2" fill="#9a9a38" filter="url(#b1)"/>
<circle cx="226" cy="257" r="1.3" fill="#d8e8b0" filter="url(#b1)"/>
</g>
<path d="M285.00,246.50 C285.42,243.79 286.04,240.98 287.50,239.00 C288.96,237.02 291.25,235.64 293.75,234.60 C296.25,233.56 299.58,232.85 302.50,232.75 C305.42,232.65 308.75,233.17 311.25,234.00 C313.75,234.83 315.83,236.08 317.50,237.75 C319.17,239.42 320.32,241.71 321.25,244.00 C322.18,246.29 322.48,249.42 323.10,251.50 C323.73,253.58 324.48,254.83 325.00,256.50 C325.52,258.17 326.35,259.42 326.25,261.50 C326.15,263.58 325.44,266.92 324.40,269.00 C323.36,271.08 321.36,272.33 320.00,274.00 C318.64,275.67 317.50,277.75 316.25,279.00 C315.00,280.25 313.96,281.50 312.50,281.50 C311.04,281.50 309.38,280.04 307.50,279.00 C305.62,277.96 303.12,276.29 301.25,275.25 C299.38,274.21 297.92,274.21 296.25,272.75 C294.58,271.29 292.71,268.38 291.25,266.50 C289.79,264.62 288.54,263.38 287.50,261.50 C286.46,259.62 285.42,257.75 285.00,255.25 C284.58,252.75 284.58,249.21 285.00,246.50 Z" fill="#cc1414" filter="url(#b1)"/>
<clipPath id="cl2"><path d="M286.74,247.39 C287.12,244.90 287.70,242.31 289.04,240.49 C290.38,238.66 292.49,237.40 294.79,236.44 C297.09,235.48 300.16,234.83 302.84,234.74 C305.52,234.65 308.59,235.12 310.89,235.89 C313.19,236.65 315.11,237.80 316.64,239.34 C318.17,240.87 319.23,242.98 320.09,245.09 C320.95,247.20 321.22,250.07 321.79,251.99 C322.37,253.90 323.06,255.05 323.54,256.59 C324.02,258.12 324.78,259.27 324.69,261.19 C324.60,263.10 323.95,266.17 322.99,268.09 C322.03,270.00 320.19,271.15 318.94,272.69 C317.69,274.22 316.64,276.14 315.49,277.29 C314.34,278.44 313.38,279.59 312.04,279.59 C310.70,279.59 309.17,278.25 307.44,277.29 C305.71,276.33 303.42,274.80 301.69,273.84 C299.96,272.88 298.62,272.88 297.09,271.54 C295.56,270.20 293.83,267.51 292.49,265.79 C291.15,264.06 290.00,262.91 289.04,261.19 C288.08,259.46 287.12,257.74 286.74,255.44 C286.36,253.14 286.36,249.88 286.74,247.39 Z"/></clipPath>
<g clip-path="url(#cl2)">
<path d="M288.75,245.25 C289.38,242.33 291.46,239.21 293.75,237.75 C296.04,236.29 299.38,236.50 302.50,236.50 C305.62,236.50 309.79,236.50 312.50,237.75 C315.21,239.00 317.50,241.50 318.75,244.00 C320.00,246.50 319.58,250.04 320.00,252.75 C320.42,255.46 321.46,257.96 321.25,260.25 C321.04,262.54 320.21,264.83 318.75,266.50 C317.29,268.17 314.58,270.04 312.50,270.25 C310.42,270.46 308.33,268.58 306.25,267.75 C304.17,266.92 302.08,266.29 300.00,265.25 C297.92,264.21 295.42,263.17 293.75,261.50 C292.08,259.83 290.83,257.96 290.00,255.25 C289.17,252.54 288.12,248.17 288.75,245.25 Z" fill="#2c6ccc" filter="url(#b1)"/>
<g filter="url(#b15)"><circle cx="303.8" cy="258.5" r="1.00" fill="#5a7ad0"/><circle cx="316.9" cy="263.4" r="1.72" fill="#2a6ccc"/><circle cx="306.2" cy="263.2" r="1.12" fill="#5a7ad0"/><circle cx="316.6" cy="248.3" r="0.88" fill="#4a6ac8"/><circle cx="299.9" cy="250.7" r="1.08" fill="#2a6ccc"/><circle cx="302.7" cy="237.7" r="1.33" fill="#5a7ad0"/><circle cx="314.4" cy="241.2" r="0.95" fill="#1e5cc0"/><circle cx="318.0" cy="254.0" r="1.48" fill="#4a6ac8"/><circle cx="319.5" cy="253.1" r="1.75" fill="#2a6ccc"/><circle cx="313.4" cy="251.3" r="1.36" fill="#5a7ad0"/><circle cx="307.0" cy="242.0" r="1.31" fill="#1e5cc0"/><circle cx="297.1" cy="259.2" r="1.75" fill="#1e5cc0"/><circle cx="320.2" cy="254.2" r="1.37" fill="#3a7ad8"/><circle cx="302.1" cy="240.4" r="0.80" fill="#4a6ac8"/><circle cx="305.5" cy="250.0" r="1.60" fill="#1e5cc0"/><circle cx="292.7" cy="239.6" r="0.97" fill="#1e5cc0"/><circle cx="314.8" cy="250.1" r="1.05" fill="#4a6ac8"/><circle cx="292.9" cy="251.1" r="1.62" fill="#4a6ac8"/><circle cx="305.8" cy="240.2" r="1.22" fill="#2a6ccc"/><circle cx="295.1" cy="244.2" r="1.49" fill="#2a62c0"/><circle cx="312.3" cy="244.8" r="1.30" fill="#4a6ac8"/><circle cx="312.5" cy="240.6" r="1.31" fill="#2a62c0"/><circle cx="312.1" cy="260.2" r="1.68" fill="#2a6ccc"/><circle cx="301.0" cy="250.5" r="1.33" fill="#3a7ad8"/><circle cx="306.2" cy="265.7" r="1.33" fill="#3a7ad8"/><circle cx="306.0" cy="265.2" r="1.41" fill="#3a7ad8"/><circle cx="296.3" cy="261.5" r="1.61" fill="#3a7ad8"/><circle cx="299.0" cy="247.1" r="1.72" fill="#3a7ad8"/><circle cx="314.0" cy="243.1" r="0.90" fill="#3a7ad8"/><circle cx="293.1" cy="239.5" r="1.19" fill="#4a6ac8"/><circle cx="315.8" cy="250.7" r="1.59" fill="#3a7ad8"/><circle cx="295.3" cy="257.7" r="1.60" fill="#2a6ccc"/><circle cx="295.3" cy="259.5" r="1.71" fill="#2a62c0"/><circle cx="292.5" cy="253.6" r="1.56" fill="#1e5cc0"/><circle cx="314.8" cy="252.8" r="0.82" fill="#1e5cc0"/><circle cx="308.7" cy="267.0" r="1.28" fill="#3a7ad8"/><circle cx="294.7" cy="243.4" r="1.64" fill="#2a62c0"/><circle cx="303.8" cy="262.3" r="1.13" fill="#4a6ac8"/><circle cx="302.6" cy="248.5" r="1.01" fill="#2a62c0"/><circle cx="316.2" cy="242.6" r="1.25" fill="#5a7ad0"/><circle cx="308.4" cy="239.7" r="1.59" fill="#2a62c0"/><circle cx="317.8" cy="263.6" r="1.50" fill="#5a7ad0"/><circle cx="319.3" cy="255.7" r="0.99" fill="#1e5cc0"/><circle cx="312.9" cy="262.8" r="1.61" fill="#4a6ac8"/><circle cx="293.1" cy="247.6" r="1.34" fill="#2a62c0"/><circle cx="313.7" cy="262.3" r="1.21" fill="#5a7ad0"/><circle cx="298.6" cy="239.9" r="1.69" fill="#5a7ad0"/><circle cx="298.5" cy="243.8" r="1.21" fill="#3a7ad8"/><circle cx="306.1" cy="249.6" r="1.80" fill="#5a7ad0"/><circle cx="295.7" cy="240.5" r="1.20" fill="#1e5cc0"/><circle cx="312.8" cy="245.2" r="1.20" fill="#2a6ccc"/><circle cx="313.5" cy="258.4" r="0.81" fill="#2a62c0"/><circle cx="306.6" cy="253.6" r="1.77" fill="#1e5cc0"/><circle cx="303.2" cy="258.3" r="1.35" fill="#5a7ad0"/><circle cx="304.1" cy="242.2" r="1.30" fill="#1e5cc0"/><circle cx="308.1" cy="251.0" r="1.29" fill="#2a62c0"/><circle cx="305.9" cy="256.7" r="1.17" fill="#2a62c0"/><circle cx="304.5" cy="245.6" r="1.73" fill="#5a7ad0"/><circle cx="312.0" cy="246.5" r="0.81" fill="#3a7ad8"/><circle cx="307.8" cy="257.9" r="1.21" fill="#5a7ad0"/><circle cx="302.7" cy="252.6" r="1.77" fill="#3a7ad8"/><circle cx="315.1" cy="267.2" r="0.94" fill="#3a7ad8"/><circle cx="308.4" cy="240.4" r="1.42" fill="#4a6ac8"/><circle cx="300.3" cy="241.7" r="1.16" fill="#3a7ad8"/><circle cx="310.5" cy="251.9" r="1.06" fill="#1e5cc0"/><circle cx="310.9" cy="248.8" r="1.54" fill="#3a7ad8"/><circle cx="319.7" cy="261.3" r="1.04" fill="#2a6ccc"/><circle cx="305.1" cy="246.9" r="1.31" fill="#2a62c0"/><circle cx="297.7" cy="257.1" r="1.53" fill="#5a7ad0"/><circle cx="308.0" cy="257.9" r="1.55" fill="#3a7ad8"/><circle cx="319.7" cy="253.4" r="1.45" fill="#3a7ad8"/><circle cx="290.7" cy="245.6" r="1.23" fill="#1e5cc0"/><circle cx="290.0" cy="244.0" r="1.08" fill="#2a6ccc"/><circle cx="304.5" cy="248.5" r="1.14" fill="#4a6ac8"/><circle cx="313.0" cy="264.8" r="0.87" fill="#2a6ccc"/><circle cx="303.3" cy="264.2" r="1.64" fill="#3a7ad8"/><circle cx="303.2" cy="261.7" r="1.19" fill="#3a7ad8"/><circle cx="300.7" cy="258.6" r="1.79" fill="#2a62c0"/><circle cx="298.2" cy="262.1" r="1.63" fill="#3a7ad8"/><circle cx="302.6" cy="249.0" r="0.90" fill="#2a62c0"/></g>
<g filter="url(#b15)"><circle cx="301.4" cy="263.2" r="1.36" fill="#a83050"/><circle cx="314.7" cy="268.5" r="1.62" fill="#c02020"/><circle cx="301.4" cy="265.0" r="1.46" fill="#c02020"/><circle cx="312.5" cy="268.9" r="1.56" fill="#a83050"/><circle cx="305.1" cy="264.0" r="1.16" fill="#d02020"/><circle cx="305.8" cy="268.2" r="1.39" fill="#d02020"/><circle cx="305.7" cy="267.6" r="1.73" fill="#d02020"/><circle cx="304.5" cy="267.1" r="1.17" fill="#a83050"/><circle cx="312.2" cy="270.2" r="1.60" fill="#d02020"/><circle cx="310.1" cy="273.2" r="1.34" fill="#d02020"/><circle cx="313.7" cy="274.3" r="1.08" fill="#c02020"/><circle cx="302.9" cy="266.1" r="0.82" fill="#a83050"/><circle cx="313.4" cy="271.1" r="1.05" fill="#c02020"/><circle cx="308.8" cy="274.7" r="1.14" fill="#a83050"/><circle cx="307.1" cy="266.7" r="1.77" fill="#d02020"/><circle cx="302.5" cy="268.8" r="1.60" fill="#c02020"/><circle cx="312.7" cy="274.8" r="1.21" fill="#d02020"/><circle cx="308.4" cy="269.6" r="0.82" fill="#a83050"/><circle cx="312.8" cy="273.2" r="1.22" fill="#a83050"/><circle cx="302.9" cy="270.9" r="1.48" fill="#a83050"/></g>
<circle cx="301.3" cy="246.5" r="2" fill="#f0f0f0" filter="url(#b1)"/>
<circle cx="302.5" cy="256.5" r="1.6" fill="#e8e8e8" filter="url(#b1)"/>
<ellipse cx="306.5" cy="260" rx="4" ry="2" fill="#c42020" transform="rotate(-35 306.5 260)" filter="url(#b1)"/>
<circle cx="299" cy="268" r="2" fill="#c03030" filter="url(#b1)"/>
</g>
<path d="M356.40,244.00 C357.12,241.50 358.98,239.32 360.75,237.75 C362.52,236.18 364.71,235.43 367.00,234.60 C369.29,233.77 372.00,233.27 374.50,232.75 C377.00,232.23 379.50,231.50 382.00,231.50 C384.50,231.50 387.42,231.71 389.50,232.75 C391.58,233.79 392.62,236.29 394.50,237.75 C396.38,239.21 399.08,240.04 400.75,241.50 C402.42,242.96 403.77,244.42 404.50,246.50 C405.23,248.58 405.52,251.71 405.10,254.00 C404.68,256.29 403.35,258.79 402.00,260.25 C400.65,261.71 398.46,261.50 397.00,262.75 C395.54,264.00 394.71,266.08 393.25,267.75 C391.79,269.42 389.92,271.50 388.25,272.75 C386.58,274.00 385.54,275.04 383.25,275.25 C380.96,275.46 377.00,274.83 374.50,274.00 C372.00,273.17 370.33,271.71 368.25,270.25 C366.17,268.79 363.67,266.92 362.00,265.25 C360.33,263.58 359.18,262.33 358.25,260.25 C357.32,258.17 356.71,255.46 356.40,252.75 C356.09,250.04 355.67,246.50 356.40,244.00 Z" fill="#d01818" filter="url(#b1)"/>
<clipPath id="cl3"><path d="M357.63,244.44 C358.31,242.06 360.08,239.99 361.76,238.50 C363.44,237.01 365.52,236.30 367.70,235.51 C369.87,234.71 372.45,234.24 374.82,233.75 C377.20,233.26 379.57,232.56 381.95,232.56 C384.32,232.56 387.09,232.76 389.07,233.75 C391.05,234.74 392.04,237.11 393.82,238.50 C395.60,239.88 398.17,240.68 399.76,242.06 C401.34,243.45 402.63,244.83 403.32,246.81 C404.01,248.79 404.29,251.76 403.89,253.94 C403.49,256.11 402.23,258.49 400.95,259.87 C399.66,261.26 397.58,261.06 396.20,262.25 C394.81,263.44 394.02,265.42 392.63,267.00 C391.25,268.58 389.47,270.56 387.88,271.75 C386.30,272.94 385.31,273.93 383.13,274.12 C380.96,274.32 377.20,273.73 374.82,272.94 C372.45,272.14 370.86,270.76 368.88,269.37 C366.90,267.99 364.53,266.21 362.95,264.62 C361.36,263.04 360.27,261.85 359.38,259.87 C358.50,257.89 357.92,255.32 357.63,252.75 C357.33,250.18 356.94,246.81 357.63,244.44 Z"/></clipPath>
<g clip-path="url(#cl3)">
<path d="M360.75,247.75 C361.58,245.67 364.29,245.04 367.00,244.00 C369.71,242.96 373.46,241.92 377.00,241.50 C380.54,241.08 385.54,240.67 388.25,241.50 C390.96,242.33 392.42,244.21 393.25,246.50 C394.08,248.79 393.67,252.54 393.25,255.25 C392.83,257.96 392.21,260.88 390.75,262.75 C389.29,264.62 386.79,266.08 384.50,266.50 C382.21,266.92 379.50,266.08 377.00,265.25 C374.50,264.42 372.00,262.96 369.50,261.50 C367.00,260.04 363.46,258.79 362.00,256.50 C360.54,254.21 359.92,249.83 360.75,247.75 Z" fill="#2a6ec8" filter="url(#b1)"/>
<g filter="url(#b15)"><circle cx="367.4" cy="252.1" r="1.09" fill="#2a6ec8"/><circle cx="376.1" cy="259.8" r="1.10" fill="#2a6ec8"/><circle cx="386.0" cy="246.0" r="0.86" fill="#2a9a3a"/><circle cx="386.8" cy="249.3" r="1.00" fill="#3a7ad0"/><circle cx="367.8" cy="247.4" r="1.52" fill="#c82020"/><circle cx="377.3" cy="252.5" r="1.69" fill="#2a9a3a"/><circle cx="370.9" cy="255.2" r="1.62" fill="#2a9a3a"/><circle cx="388.5" cy="253.6" r="1.20" fill="#3a7ad0"/><circle cx="382.2" cy="260.8" r="0.89" fill="#2a6ec8"/><circle cx="373.7" cy="246.9" r="0.93" fill="#2a9a3a"/><circle cx="385.9" cy="261.2" r="0.86" fill="#2a6ec8"/><circle cx="389.7" cy="263.4" r="1.71" fill="#2a9a3a"/><circle cx="386.6" cy="259.3" r="1.41" fill="#2a6ec8"/><circle cx="374.3" cy="260.8" r="0.94" fill="#c82020"/><circle cx="380.9" cy="254.4" r="0.85" fill="#c82020"/><circle cx="385.8" cy="241.5" r="1.62" fill="#2a6ec8"/><circle cx="387.5" cy="243.6" r="1.07" fill="#2a62c0"/><circle cx="377.9" cy="263.7" r="1.49" fill="#2a6ec8"/><circle cx="391.8" cy="256.2" r="1.66" fill="#3a7ad0"/><circle cx="367.0" cy="258.6" r="1.58" fill="#2a9a3a"/><circle cx="367.5" cy="255.1" r="1.33" fill="#2a6ec8"/><circle cx="371.0" cy="251.6" r="1.36" fill="#2a9a3a"/><circle cx="382.4" cy="243.2" r="0.87" fill="#2a6ec8"/><circle cx="364.2" cy="251.4" r="1.26" fill="#2a6ec8"/><circle cx="382.0" cy="241.8" r="1.18" fill="#2a62c0"/><circle cx="376.2" cy="248.8" r="0.91" fill="#2a6ec8"/><circle cx="388.6" cy="262.6" r="1.52" fill="#c82020"/><circle cx="365.7" cy="257.2" r="1.74" fill="#2a62c0"/><circle cx="370.4" cy="249.9" r="1.19" fill="#2a62c0"/><circle cx="363.6" cy="246.2" r="1.18" fill="#2a6ec8"/><circle cx="379.0" cy="259.6" r="1.13" fill="#2a9a3a"/><circle cx="383.8" cy="246.0" r="1.20" fill="#2a9a3a"/><circle cx="380.0" cy="243.8" r="1.03" fill="#2a6ec8"/><circle cx="392.8" cy="252.3" r="1.57" fill="#3a7ad0"/><circle cx="390.7" cy="252.2" r="1.31" fill="#2a62c0"/><circle cx="367.4" cy="245.2" r="1.49" fill="#2a9a3a"/><circle cx="371.5" cy="251.8" r="0.82" fill="#2a9a3a"/><circle cx="380.7" cy="249.4" r="1.59" fill="#2a6ec8"/><circle cx="382.2" cy="256.7" r="0.82" fill="#3a7ad0"/><circle cx="366.9" cy="249.2" r="1.24" fill="#c82020"/><circle cx="373.0" cy="254.2" r="1.59" fill="#2a6ec8"/><circle cx="380.6" cy="245.5" r="1.57" fill="#3a7ad0"/><circle cx="378.6" cy="250.3" r="1.30" fill="#2a6ec8"/><circle cx="379.4" cy="246.5" r="1.73" fill="#2a62c0"/><circle cx="383.7" cy="264.9" r="1.37" fill="#2a6ec8"/><circle cx="381.1" cy="246.4" r="0.88" fill="#2a6ec8"/><circle cx="376.3" cy="251.9" r="1.13" fill="#2a6ec8"/><circle cx="390.9" cy="250.5" r="1.26" fill="#2a6ec8"/><circle cx="375.4" cy="259.7" r="1.04" fill="#c82020"/><circle cx="378.4" cy="255.5" r="1.36" fill="#3a7ad0"/><circle cx="389.9" cy="249.9" r="0.95" fill="#2a6ec8"/><circle cx="368.6" cy="255.8" r="1.63" fill="#2a6ec8"/><circle cx="380.2" cy="261.8" r="1.25" fill="#2a9a3a"/><circle cx="391.3" cy="258.0" r="1.11" fill="#2a62c0"/><circle cx="388.3" cy="264.2" r="1.42" fill="#2a62c0"/><circle cx="386.9" cy="241.9" r="1.00" fill="#2a9a3a"/><circle cx="361.8" cy="254.7" r="0.92" fill="#2a9a3a"/><circle cx="366.4" cy="254.5" r="1.06" fill="#c82020"/><circle cx="386.2" cy="259.5" r="1.59" fill="#2a9a3a"/><circle cx="391.9" cy="256.5" r="1.27" fill="#2a9a3a"/><circle cx="379.1" cy="251.7" r="1.08" fill="#2a9a3a"/><circle cx="388.0" cy="262.9" r="1.21" fill="#2a9a3a"/><circle cx="391.3" cy="249.8" r="1.32" fill="#2a9a3a"/><circle cx="390.1" cy="249.5" r="0.85" fill="#2a62c0"/><circle cx="380.8" cy="252.3" r="1.18" fill="#3a7ad0"/><circle cx="385.2" cy="249.1" r="1.39" fill="#2a6ec8"/><circle cx="392.4" cy="253.4" r="0.91" fill="#2a6ec8"/><circle cx="378.5" cy="257.9" r="1.74" fill="#2a6ec8"/><circle cx="389.1" cy="250.7" r="1.35" fill="#c82020"/><circle cx="386.9" cy="247.0" r="1.55" fill="#c82020"/><circle cx="377.6" cy="244.7" r="1.68" fill="#c82020"/><circle cx="368.7" cy="249.0" r="1.12" fill="#2a6ec8"/><circle cx="375.1" cy="252.8" r="1.33" fill="#2a6ec8"/><circle cx="372.3" cy="256.1" r="0.85" fill="#2a6ec8"/><circle cx="375.5" cy="249.3" r="1.12" fill="#2a6ec8"/><circle cx="376.1" cy="246.7" r="1.10" fill="#2a62c0"/><circle cx="389.9" cy="246.4" r="1.64" fill="#3a7ad0"/><circle cx="381.4" cy="258.9" r="1.36" fill="#c82020"/><circle cx="381.3" cy="246.3" r="1.68" fill="#2a6ec8"/><circle cx="381.9" cy="249.2" r="1.62" fill="#3a7ad0"/></g>
<ellipse cx="378" cy="259" rx="6" ry="5.5" fill="#2a9a2a" filter="url(#b2)"/>
<ellipse cx="374.5" cy="252.5" rx="3" ry="3" fill="#30a070" filter="url(#b2)"/>
<ellipse cx="381" cy="266" rx="4" ry="2.5" fill="#3a9a2a" filter="url(#b2)"/>
<ellipse cx="369" cy="237.5" rx="5.5" ry="3" fill="#9a9a30" filter="url(#b2)"/>
<ellipse cx="388" cy="240" rx="3" ry="2" fill="#8a9a30" filter="url(#b2)"/>
<circle cx="371" cy="256.5" r="2.3" fill="#e07a20" filter="url(#b1)"/>
<circle cx="369" cy="242" r="3" fill="#c82020" filter="url(#b2)"/>
<circle cx="392" cy="256" r="3" fill="#c82020" filter="url(#b2)"/>
<circle cx="364" cy="262" r="3" fill="#c82020" filter="url(#b2)"/>
</g>
<ellipse cx="393" cy="266" rx="5" ry="2" fill="#f4f4f4" transform="rotate(-40 393 266)" filter="url(#b1)"/>
<path d="M219.00,305.00 C220.00,302.08 221.83,301.42 224.00,300.50 C226.17,299.58 229.33,299.42 232.00,299.50 C234.67,299.58 237.50,300.25 240.00,301.00 C242.50,301.75 245.00,302.67 247.00,304.00 C249.00,305.33 250.83,307.00 252.00,309.00 C253.17,311.00 254.08,313.83 254.00,316.00 C253.92,318.17 252.50,320.00 251.50,322.00 C250.50,324.00 249.42,326.00 248.00,328.00 C246.58,330.00 245.00,332.00 243.00,334.00 C241.00,336.00 238.33,338.17 236.00,340.00 C233.67,341.83 231.33,344.00 229.00,345.00 C226.67,346.00 223.75,346.83 222.00,346.00 C220.25,345.17 219.17,342.67 218.50,340.00 C217.83,337.33 218.08,333.67 218.00,330.00 C217.92,326.33 217.83,322.17 218.00,318.00 C218.17,313.83 218.00,307.92 219.00,305.00 Z" fill="#dbe8db" opacity="0.7" filter="url(#b2)"/>
<g filter="url(#b15)"><circle cx="229.0" cy="305.5" r="1.10" fill="#a0c4a0"/><circle cx="237.4" cy="316.3" r="0.63" fill="#a0c4a0"/><circle cx="218.3" cy="323.4" r="0.75" fill="#2a8a2a"/><circle cx="233.0" cy="339.3" r="0.59" fill="#4a9a4a"/><circle cx="221.0" cy="309.2" r="1.07" fill="#88b888"/><circle cx="239.1" cy="317.8" r="0.86" fill="#6aaa6a"/><circle cx="250.3" cy="312.5" r="1.03" fill="#88b888"/><circle cx="221.8" cy="303.9" r="0.64" fill="#88b888"/><circle cx="228.3" cy="338.8" r="0.98" fill="#3a9a3a"/><circle cx="223.2" cy="327.1" r="0.70" fill="#2a8a2a"/><circle cx="241.6" cy="316.6" r="0.91" fill="#a0c4a0"/><circle cx="237.9" cy="301.1" r="0.68" fill="#a0c4a0"/><circle cx="243.2" cy="319.4" r="0.75" fill="#6aaa6a"/><circle cx="228.6" cy="327.3" r="0.92" fill="#3a9a3a"/><circle cx="234.1" cy="313.0" r="0.50" fill="#88b888"/><circle cx="225.8" cy="326.7" r="1.29" fill="#3a9a3a"/><circle cx="245.2" cy="312.4" r="1.06" fill="#4a9a4a"/><circle cx="232.7" cy="335.9" r="0.93" fill="#6aaa6a"/><circle cx="222.1" cy="322.4" r="0.90" fill="#5aa85a"/><circle cx="246.6" cy="326.7" r="0.54" fill="#88b888"/><circle cx="251.0" cy="313.7" r="1.10" fill="#a0c4a0"/><circle cx="243.8" cy="327.7" r="0.72" fill="#4a9a4a"/><circle cx="239.2" cy="320.8" r="0.95" fill="#a0c4a0"/><circle cx="235.0" cy="331.2" r="0.67" fill="#4a9a4a"/><circle cx="218.4" cy="333.1" r="1.28" fill="#2a8a2a"/><circle cx="248.9" cy="312.2" r="0.88" fill="#88b888"/><circle cx="231.4" cy="331.4" r="0.87" fill="#2a8a2a"/><circle cx="222.7" cy="303.9" r="0.76" fill="#88b888"/><circle cx="218.4" cy="336.4" r="0.83" fill="#3a9a3a"/><circle cx="221.2" cy="310.4" r="0.97" fill="#88b888"/><circle cx="231.6" cy="341.6" r="1.32" fill="#3a9a3a"/><circle cx="219.2" cy="320.5" r="0.98" fill="#5aa85a"/><circle cx="227.1" cy="318.8" r="0.93" fill="#6aaa6a"/><circle cx="230.4" cy="342.2" r="1.35" fill="#2a8a2a"/><circle cx="223.0" cy="309.6" r="0.77" fill="#a0c4a0"/><circle cx="225.3" cy="322.2" r="1.15" fill="#2a8a2a"/><circle cx="239.6" cy="311.1" r="0.79" fill="#88b888"/><circle cx="230.8" cy="326.3" r="0.79" fill="#5aa85a"/><circle cx="236.6" cy="328.9" r="0.75" fill="#a0c4a0"/><circle cx="231.7" cy="317.9" r="0.68" fill="#88b888"/><circle cx="220.1" cy="329.7" r="1.22" fill="#5aa85a"/><circle cx="224.4" cy="306.1" r="0.74" fill="#88b888"/><circle cx="229.6" cy="300.6" r="0.68" fill="#6aaa6a"/><circle cx="220.1" cy="316.2" r="0.57" fill="#a0c4a0"/><circle cx="240.6" cy="305.4" r="0.55" fill="#6aaa6a"/><circle cx="226.1" cy="315.4" r="0.83" fill="#a0c4a0"/><circle cx="230.6" cy="304.1" r="1.04" fill="#a0c4a0"/><circle cx="234.6" cy="322.2" r="0.76" fill="#a0c4a0"/><circle cx="229.7" cy="311.2" r="0.65" fill="#6aaa6a"/><circle cx="237.1" cy="305.3" r="0.71" fill="#6aaa6a"/><circle cx="226.4" cy="316.3" r="0.69" fill="#4a9a4a"/><circle cx="222.7" cy="336.6" r="0.88" fill="#3a9a3a"/><circle cx="237.3" cy="337.0" r="1.03" fill="#6aaa6a"/><circle cx="229.2" cy="309.2" r="0.73" fill="#a0c4a0"/><circle cx="225.1" cy="323.9" r="1.07" fill="#5aa85a"/><circle cx="226.4" cy="332.6" r="0.89" fill="#3a9a3a"/><circle cx="224.8" cy="309.3" r="0.80" fill="#4a9a4a"/><circle cx="223.9" cy="308.2" r="0.58" fill="#88b888"/><circle cx="249.6" cy="322.0" r="0.56" fill="#6aaa6a"/><circle cx="219.4" cy="331.0" r="0.97" fill="#2a8a2a"/><circle cx="246.0" cy="321.9" r="0.76" fill="#a0c4a0"/><circle cx="223.1" cy="337.5" r="1.29" fill="#3a9a3a"/><circle cx="229.3" cy="338.0" r="0.79" fill="#2a8a2a"/><circle cx="245.0" cy="306.5" r="0.93" fill="#a0c4a0"/><circle cx="221.1" cy="305.6" r="1.08" fill="#a0c4a0"/><circle cx="221.8" cy="339.3" r="0.70" fill="#3a9a3a"/><circle cx="230.0" cy="325.4" r="1.35" fill="#3a9a3a"/><circle cx="233.4" cy="341.6" r="1.08" fill="#a0c4a0"/><circle cx="249.0" cy="308.6" r="0.97" fill="#6aaa6a"/><circle cx="226.1" cy="312.6" r="0.59" fill="#6aaa6a"/><circle cx="225.6" cy="327.3" r="1.38" fill="#5aa85a"/><circle cx="226.4" cy="319.0" r="1.06" fill="#4a9a4a"/><circle cx="221.2" cy="343.5" r="1.19" fill="#5aa85a"/><circle cx="230.2" cy="320.9" r="0.76" fill="#3a9a3a"/><circle cx="236.1" cy="324.6" r="0.50" fill="#4a9a4a"/><circle cx="233.6" cy="307.2" r="0.64" fill="#6aaa6a"/><circle cx="222.9" cy="321.7" r="1.15" fill="#2a8a2a"/><circle cx="245.0" cy="325.8" r="1.08" fill="#88b888"/><circle cx="229.0" cy="323.9" r="0.88" fill="#5aa85a"/><circle cx="238.2" cy="337.2" r="0.92" fill="#a0c4a0"/><circle cx="220.2" cy="326.0" r="0.77" fill="#2a8a2a"/><circle cx="225.9" cy="311.8" r="0.81" fill="#88b888"/><circle cx="246.9" cy="323.4" r="0.73" fill="#6aaa6a"/><circle cx="238.5" cy="336.0" r="0.97" fill="#6aaa6a"/><circle cx="240.5" cy="323.3" r="0.51" fill="#4a9a4a"/><circle cx="236.5" cy="332.6" r="1.10" fill="#88b888"/><circle cx="234.1" cy="324.7" r="1.08" fill="#88b888"/><circle cx="220.9" cy="320.1" r="1.29" fill="#5aa85a"/><circle cx="218.9" cy="310.0" r="0.79" fill="#6aaa6a"/><circle cx="218.9" cy="331.5" r="1.08" fill="#2a8a2a"/><circle cx="222.2" cy="333.8" r="1.37" fill="#2a8a2a"/><circle cx="242.4" cy="305.1" r="0.53" fill="#88b888"/><circle cx="231.9" cy="322.4" r="1.05" fill="#2a8a2a"/><circle cx="222.5" cy="319.6" r="0.55" fill="#a0c4a0"/><circle cx="236.6" cy="315.0" r="0.90" fill="#6aaa6a"/><circle cx="223.8" cy="313.9" r="0.64" fill="#88b888"/><circle cx="238.2" cy="320.0" r="0.92" fill="#4a9a4a"/><circle cx="241.0" cy="323.6" r="0.72" fill="#a0c4a0"/><circle cx="220.2" cy="311.3" r="0.62" fill="#a0c4a0"/><circle cx="226.8" cy="304.5" r="0.94" fill="#88b888"/><circle cx="248.8" cy="310.9" r="0.62" fill="#4a9a4a"/><circle cx="222.0" cy="344.0" r="0.92" fill="#2a8a2a"/><circle cx="238.8" cy="333.0" r="0.64" fill="#6aaa6a"/><circle cx="243.5" cy="319.3" r="0.66" fill="#6aaa6a"/><circle cx="219.3" cy="340.8" r="0.78" fill="#3a9a3a"/><circle cx="234.2" cy="315.0" r="0.87" fill="#a0c4a0"/><circle cx="226.7" cy="304.5" r="0.79" fill="#6aaa6a"/><circle cx="237.1" cy="309.9" r="1.07" fill="#4a9a4a"/><circle cx="220.4" cy="306.1" r="1.05" fill="#6aaa6a"/><circle cx="228.5" cy="313.3" r="0.63" fill="#4a9a4a"/><circle cx="246.4" cy="312.5" r="0.75" fill="#6aaa6a"/><circle cx="236.0" cy="306.9" r="0.61" fill="#4a9a4a"/><circle cx="245.3" cy="325.6" r="1.04" fill="#a0c4a0"/><circle cx="223.6" cy="321.7" r="1.21" fill="#3a9a3a"/><circle cx="248.8" cy="319.6" r="1.06" fill="#4a9a4a"/><circle cx="235.8" cy="339.7" r="0.61" fill="#88b888"/><circle cx="231.7" cy="323.3" r="1.36" fill="#5aa85a"/><circle cx="229.7" cy="339.6" r="1.03" fill="#5aa85a"/><circle cx="244.3" cy="329.8" r="0.90" fill="#88b888"/><circle cx="232.2" cy="315.4" r="1.00" fill="#a0c4a0"/><circle cx="218.8" cy="335.0" r="1.01" fill="#3a9a3a"/><circle cx="226.2" cy="306.2" r="0.50" fill="#4a9a4a"/><circle cx="219.4" cy="340.1" r="0.76" fill="#3a9a3a"/><circle cx="227.3" cy="310.1" r="1.07" fill="#a0c4a0"/><circle cx="227.7" cy="321.0" r="1.09" fill="#2a8a2a"/><circle cx="222.3" cy="320.3" r="0.97" fill="#2a8a2a"/><circle cx="228.4" cy="315.8" r="0.99" fill="#88b888"/><circle cx="235.0" cy="323.1" r="0.55" fill="#a0c4a0"/><circle cx="224.0" cy="323.2" r="1.03" fill="#5aa85a"/><circle cx="219.6" cy="318.0" r="0.82" fill="#88b888"/><circle cx="228.2" cy="309.6" r="0.62" fill="#a0c4a0"/><circle cx="239.4" cy="324.5" r="0.94" fill="#88b888"/><circle cx="231.6" cy="314.3" r="0.52" fill="#a0c4a0"/><circle cx="245.0" cy="330.2" r="0.65" fill="#a0c4a0"/><circle cx="221.6" cy="324.2" r="1.24" fill="#5aa85a"/><circle cx="236.2" cy="339.7" r="0.73" fill="#4a9a4a"/><circle cx="243.3" cy="332.7" r="0.54" fill="#a0c4a0"/><circle cx="221.3" cy="316.0" r="0.65" fill="#4a9a4a"/><circle cx="220.2" cy="339.8" r="0.74" fill="#5aa85a"/><circle cx="238.3" cy="329.4" r="0.72" fill="#88b888"/><circle cx="241.0" cy="332.0" r="1.07" fill="#88b888"/><circle cx="236.1" cy="324.8" r="0.66" fill="#4a9a4a"/><circle cx="245.5" cy="310.6" r="1.05" fill="#88b888"/><circle cx="219.0" cy="311.3" r="0.50" fill="#88b888"/><circle cx="245.2" cy="308.3" r="0.51" fill="#4a9a4a"/><circle cx="235.8" cy="317.1" r="0.56" fill="#6aaa6a"/><circle cx="235.2" cy="332.2" r="1.07" fill="#a0c4a0"/><circle cx="246.7" cy="328.8" r="0.97" fill="#a0c4a0"/><circle cx="241.7" cy="301.9" r="0.99" fill="#a0c4a0"/><circle cx="221.9" cy="310.7" r="1.06" fill="#6aaa6a"/><circle cx="245.7" cy="313.2" r="0.51" fill="#6aaa6a"/><circle cx="242.9" cy="332.6" r="0.99" fill="#88b888"/><circle cx="243.0" cy="312.5" r="0.86" fill="#6aaa6a"/><circle cx="236.7" cy="321.2" r="1.02" fill="#88b888"/><circle cx="234.7" cy="303.9" r="0.72" fill="#a0c4a0"/></g>
<circle cx="225.5" cy="327" r="2.8" fill="#3a9a3a" filter="url(#b2)"/>
<circle cx="221.5" cy="343" r="2.4" fill="#2a8a2a" filter="url(#b2)"/>
<circle cx="236" cy="306" r="2" fill="#8aba8a" filter="url(#b2)"/>
<circle cx="246" cy="318" r="2" fill="#7aaa7a" filter="url(#b2)"/>
<path d="M285.00,308.00 C286.25,304.50 289.33,302.42 292.00,301.00 C294.67,299.58 297.83,299.33 301.00,299.50 C304.17,299.67 308.17,300.58 311.00,302.00 C313.83,303.42 316.33,305.67 318.00,308.00 C319.67,310.33 320.33,313.00 321.00,316.00 C321.67,319.00 322.17,322.83 322.00,326.00 C321.83,329.17 321.33,332.50 320.00,335.00 C318.67,337.50 316.50,339.58 314.00,341.00 C311.50,342.42 308.00,343.67 305.00,343.50 C302.00,343.33 298.67,341.92 296.00,340.00 C293.33,338.08 290.92,335.00 289.00,332.00 C287.08,329.00 285.17,326.00 284.50,322.00 C283.83,318.00 283.75,311.50 285.00,308.00 Z" fill="#e2eae2" opacity="0.6" filter="url(#b2)"/>
<g filter="url(#b15)" opacity="0.85"><circle cx="293.1" cy="301.1" r="0.64" fill="#90a890"/><circle cx="301.4" cy="340.7" r="0.79" fill="#a8bca8"/><circle cx="317.6" cy="329.6" r="0.80" fill="#90a890"/><circle cx="294.3" cy="310.7" r="0.78" fill="#7a967a"/><circle cx="290.4" cy="309.1" r="0.56" fill="#a8bca8"/><circle cx="309.3" cy="301.9" r="0.90" fill="#b8c8b8"/><circle cx="286.3" cy="320.3" r="0.83" fill="#a8bca8"/><circle cx="294.3" cy="302.8" r="0.72" fill="#a8bca8"/><circle cx="285.2" cy="322.1" r="0.65" fill="#a8bca8"/><circle cx="292.9" cy="335.1" r="0.50" fill="#90a890"/><circle cx="307.0" cy="327.4" r="0.60" fill="#7a967a"/><circle cx="316.4" cy="317.0" r="0.49" fill="#7a967a"/><circle cx="309.9" cy="304.6" r="0.74" fill="#90a890"/><circle cx="310.0" cy="317.5" r="0.64" fill="#7a967a"/><circle cx="315.7" cy="328.6" r="0.54" fill="#b8c8b8"/><circle cx="299.8" cy="337.2" r="0.71" fill="#b8c8b8"/><circle cx="297.3" cy="334.9" r="0.46" fill="#a8bca8"/><circle cx="297.6" cy="321.7" r="0.52" fill="#7a967a"/><circle cx="315.8" cy="311.8" r="0.89" fill="#90a890"/><circle cx="320.9" cy="316.0" r="0.74" fill="#a8bca8"/><circle cx="318.0" cy="327.4" r="0.82" fill="#a8bca8"/><circle cx="289.7" cy="307.7" r="0.87" fill="#b8c8b8"/><circle cx="288.6" cy="314.6" r="0.56" fill="#a8bca8"/><circle cx="312.4" cy="341.0" r="0.85" fill="#90a890"/><circle cx="317.4" cy="329.9" r="0.50" fill="#7a967a"/><circle cx="299.9" cy="329.3" r="0.53" fill="#b8c8b8"/><circle cx="316.4" cy="338.0" r="0.63" fill="#b8c8b8"/><circle cx="284.8" cy="314.6" r="0.49" fill="#7a967a"/><circle cx="300.6" cy="322.0" r="0.49" fill="#a8bca8"/><circle cx="312.8" cy="335.1" r="0.47" fill="#90a890"/><circle cx="316.2" cy="306.5" r="0.58" fill="#b8c8b8"/><circle cx="316.1" cy="336.0" r="0.48" fill="#a8bca8"/><circle cx="296.7" cy="334.1" r="0.60" fill="#a8bca8"/><circle cx="307.8" cy="341.3" r="0.51" fill="#b8c8b8"/><circle cx="303.1" cy="342.1" r="0.72" fill="#a8bca8"/><circle cx="307.9" cy="308.6" r="0.53" fill="#a8bca8"/><circle cx="310.5" cy="340.9" r="0.81" fill="#a8bca8"/><circle cx="293.1" cy="334.6" r="0.74" fill="#90a890"/><circle cx="297.1" cy="339.8" r="0.56" fill="#90a890"/><circle cx="304.5" cy="339.0" r="0.57" fill="#7a967a"/><circle cx="297.1" cy="334.5" r="0.55" fill="#b8c8b8"/><circle cx="294.4" cy="322.3" r="0.78" fill="#7a967a"/><circle cx="313.4" cy="307.9" r="0.73" fill="#7a967a"/><circle cx="287.5" cy="308.1" r="0.46" fill="#90a890"/><circle cx="286.5" cy="314.5" r="0.64" fill="#a8bca8"/><circle cx="294.6" cy="303.6" r="0.73" fill="#7a967a"/><circle cx="301.9" cy="303.6" r="0.77" fill="#a8bca8"/><circle cx="300.9" cy="300.1" r="0.84" fill="#a8bca8"/><circle cx="314.9" cy="316.7" r="0.48" fill="#90a890"/><circle cx="303.7" cy="321.1" r="0.47" fill="#90a890"/><circle cx="304.3" cy="316.9" r="0.86" fill="#90a890"/><circle cx="309.6" cy="306.7" r="0.54" fill="#b8c8b8"/><circle cx="295.0" cy="311.7" r="0.77" fill="#b8c8b8"/><circle cx="301.0" cy="308.1" r="0.74" fill="#a8bca8"/><circle cx="297.9" cy="338.7" r="0.66" fill="#b8c8b8"/><circle cx="305.7" cy="305.4" r="0.46" fill="#90a890"/><circle cx="296.5" cy="304.0" r="0.46" fill="#90a890"/><circle cx="287.8" cy="328.5" r="0.76" fill="#90a890"/><circle cx="286.5" cy="307.1" r="0.47" fill="#90a890"/><circle cx="309.1" cy="311.4" r="0.46" fill="#7a967a"/><circle cx="303.2" cy="338.7" r="0.81" fill="#90a890"/><circle cx="286.1" cy="320.0" r="0.69" fill="#90a890"/><circle cx="289.7" cy="321.2" r="0.71" fill="#7a967a"/><circle cx="305.6" cy="302.1" r="0.61" fill="#7a967a"/><circle cx="296.6" cy="313.0" r="0.75" fill="#b8c8b8"/><circle cx="313.2" cy="305.3" r="0.76" fill="#b8c8b8"/><circle cx="292.8" cy="308.3" r="0.66" fill="#7a967a"/><circle cx="288.6" cy="309.1" r="0.72" fill="#7a967a"/><circle cx="309.6" cy="306.6" r="0.89" fill="#a8bca8"/><circle cx="315.4" cy="332.9" r="0.57" fill="#b8c8b8"/><circle cx="317.9" cy="318.4" r="0.68" fill="#a8bca8"/><circle cx="308.6" cy="319.7" r="0.45" fill="#b8c8b8"/><circle cx="317.5" cy="329.7" r="0.76" fill="#a8bca8"/><circle cx="308.9" cy="319.2" r="0.85" fill="#90a890"/><circle cx="318.1" cy="322.4" r="0.85" fill="#a8bca8"/><circle cx="286.5" cy="309.3" r="0.52" fill="#a8bca8"/><circle cx="303.8" cy="302.0" r="0.69" fill="#b8c8b8"/><circle cx="316.8" cy="322.6" r="0.54" fill="#b8c8b8"/><circle cx="293.5" cy="316.6" r="0.86" fill="#b8c8b8"/><circle cx="286.6" cy="311.9" r="0.87" fill="#b8c8b8"/><circle cx="298.5" cy="307.4" r="0.81" fill="#90a890"/><circle cx="316.3" cy="319.9" r="0.80" fill="#a8bca8"/><circle cx="301.7" cy="335.4" r="0.76" fill="#b8c8b8"/><circle cx="297.0" cy="329.1" r="0.64" fill="#b8c8b8"/><circle cx="308.8" cy="329.3" r="0.83" fill="#7a967a"/><circle cx="309.6" cy="309.3" r="0.83" fill="#a8bca8"/><circle cx="305.0" cy="328.2" r="0.76" fill="#b8c8b8"/><circle cx="304.3" cy="333.4" r="0.70" fill="#90a890"/><circle cx="293.1" cy="308.5" r="0.70" fill="#b8c8b8"/><circle cx="302.3" cy="341.4" r="0.56" fill="#b8c8b8"/><circle cx="288.9" cy="326.4" r="0.52" fill="#90a890"/><circle cx="294.5" cy="319.8" r="0.53" fill="#90a890"/><circle cx="297.1" cy="328.7" r="0.76" fill="#90a890"/><circle cx="302.4" cy="341.0" r="0.55" fill="#90a890"/><circle cx="299.5" cy="303.2" r="0.84" fill="#90a890"/><circle cx="314.4" cy="307.3" r="0.60" fill="#b8c8b8"/><circle cx="318.7" cy="313.9" r="0.74" fill="#a8bca8"/><circle cx="315.3" cy="313.2" r="0.51" fill="#7a967a"/><circle cx="298.7" cy="302.3" r="0.54" fill="#90a890"/><circle cx="320.7" cy="326.8" r="0.81" fill="#90a890"/><circle cx="320.2" cy="327.0" r="0.73" fill="#a8bca8"/><circle cx="290.9" cy="329.7" r="0.73" fill="#b8c8b8"/><circle cx="289.3" cy="329.5" r="0.64" fill="#90a890"/><circle cx="287.8" cy="312.2" r="0.84" fill="#7a967a"/><circle cx="306.3" cy="341.8" r="0.71" fill="#b8c8b8"/><circle cx="299.3" cy="302.0" r="0.55" fill="#b8c8b8"/><circle cx="312.2" cy="308.9" r="0.87" fill="#a8bca8"/><circle cx="310.1" cy="340.6" r="0.77" fill="#90a890"/><circle cx="309.3" cy="337.0" r="0.63" fill="#90a890"/><circle cx="317.1" cy="326.8" r="0.66" fill="#b8c8b8"/><circle cx="293.4" cy="334.0" r="0.58" fill="#7a967a"/><circle cx="311.5" cy="337.5" r="0.84" fill="#7a967a"/><circle cx="292.3" cy="316.0" r="0.81" fill="#a8bca8"/><circle cx="296.6" cy="301.2" r="0.81" fill="#b8c8b8"/><circle cx="290.7" cy="309.5" r="0.81" fill="#90a890"/><circle cx="301.3" cy="301.3" r="0.80" fill="#7a967a"/><circle cx="319.2" cy="322.6" r="0.68" fill="#b8c8b8"/><circle cx="290.5" cy="307.4" r="0.53" fill="#90a890"/><circle cx="298.9" cy="322.3" r="0.87" fill="#90a890"/><circle cx="302.7" cy="339.5" r="0.73" fill="#7a967a"/><circle cx="302.4" cy="324.8" r="0.64" fill="#7a967a"/><circle cx="290.4" cy="305.9" r="0.46" fill="#90a890"/><circle cx="308.9" cy="342.2" r="0.57" fill="#90a890"/><circle cx="310.1" cy="316.3" r="0.62" fill="#a8bca8"/><circle cx="291.9" cy="332.3" r="0.47" fill="#a8bca8"/><circle cx="295.6" cy="309.6" r="0.62" fill="#b8c8b8"/><circle cx="300.5" cy="336.6" r="0.66" fill="#90a890"/><circle cx="295.5" cy="308.5" r="0.51" fill="#7a967a"/><circle cx="312.0" cy="324.1" r="0.57" fill="#a8bca8"/><circle cx="299.3" cy="304.6" r="0.71" fill="#7a967a"/><circle cx="294.5" cy="336.4" r="0.67" fill="#7a967a"/><circle cx="310.1" cy="307.3" r="0.83" fill="#b8c8b8"/><circle cx="293.0" cy="308.7" r="0.58" fill="#b8c8b8"/><circle cx="296.3" cy="303.9" r="0.81" fill="#90a890"/><circle cx="299.2" cy="310.6" r="0.68" fill="#a8bca8"/><circle cx="291.7" cy="305.6" r="0.82" fill="#90a890"/><circle cx="319.4" cy="332.8" r="0.53" fill="#7a967a"/><circle cx="308.4" cy="306.4" r="0.54" fill="#7a967a"/><circle cx="299.1" cy="332.4" r="0.60" fill="#7a967a"/><circle cx="320.2" cy="320.4" r="0.56" fill="#7a967a"/><circle cx="306.1" cy="339.0" r="0.68" fill="#7a967a"/><circle cx="300.7" cy="322.3" r="0.82" fill="#a8bca8"/><circle cx="318.3" cy="312.7" r="0.71" fill="#b8c8b8"/><circle cx="292.2" cy="301.3" r="0.53" fill="#a8bca8"/><circle cx="313.0" cy="309.8" r="0.69" fill="#b8c8b8"/><circle cx="318.5" cy="332.1" r="0.57" fill="#90a890"/><circle cx="319.1" cy="323.5" r="0.84" fill="#a8bca8"/><circle cx="288.2" cy="325.1" r="0.52" fill="#b8c8b8"/><circle cx="314.6" cy="313.6" r="0.77" fill="#7a967a"/><circle cx="295.6" cy="304.2" r="0.56" fill="#7a967a"/><circle cx="299.7" cy="328.0" r="0.48" fill="#a8bca8"/><circle cx="300.2" cy="321.7" r="0.64" fill="#a8bca8"/><circle cx="308.1" cy="342.0" r="0.73" fill="#7a967a"/><circle cx="296.6" cy="305.2" r="0.72" fill="#90a890"/><circle cx="287.5" cy="311.4" r="0.71" fill="#b8c8b8"/><circle cx="293.5" cy="333.1" r="0.83" fill="#7a967a"/><circle cx="290.5" cy="331.8" r="0.85" fill="#b8c8b8"/><circle cx="289.9" cy="323.7" r="0.46" fill="#b8c8b8"/><circle cx="296.8" cy="339.2" r="0.60" fill="#a8bca8"/><circle cx="303.7" cy="337.9" r="0.78" fill="#7a967a"/><circle cx="286.6" cy="308.0" r="0.64" fill="#a8bca8"/><circle cx="310.1" cy="303.9" r="0.73" fill="#a8bca8"/><circle cx="317.7" cy="337.2" r="0.78" fill="#90a890"/></g>
<circle cx="287.5" cy="311" r="2.0" fill="#6a946a" filter="url(#b1)"/>
<circle cx="307.5" cy="323.5" r="1.8" fill="#88a488" filter="url(#b1)"/>
<circle cx="301.3" cy="341" r="1.3" fill="#708a70" filter="url(#b1)"/>
<circle cx="335" cy="340" r="1.6" fill="#a0bca0" filter="url(#b1)"/>
<circle cx="336" cy="333" r="1.2" fill="#b0c8b0" filter="url(#b1)"/>
<path d="M357.00,306.00 C359.00,303.33 362.50,300.50 366.00,299.00 C369.50,297.50 373.67,297.00 378.00,297.00 C382.33,297.00 388.00,297.33 392.00,299.00 C396.00,300.67 399.83,303.50 402.00,307.00 C404.17,310.50 404.83,315.67 405.00,320.00 C405.17,324.33 404.50,329.33 403.00,333.00 C401.50,336.67 399.17,339.67 396.00,342.00 C392.83,344.33 388.33,346.33 384.00,347.00 C379.67,347.67 374.00,347.33 370.00,346.00 C366.00,344.67 362.50,342.33 360.00,339.00 C357.50,335.67 356.00,330.00 355.00,326.00 C354.00,322.00 353.67,318.33 354.00,315.00 C354.33,311.67 355.00,308.67 357.00,306.00 Z" fill="#e6ece6" opacity="0.6" filter="url(#b2)"/>
<circle cx="358.5" cy="311" r="1.5" fill="#3a9a3a" filter="url(#b1)"/>
<circle cx="360" cy="315" r="1.6" fill="#4aa04a" filter="url(#b1)"/>
<circle cx="362" cy="318.5" r="1.3" fill="#2a902a" filter="url(#b1)"/>
<circle cx="359" cy="323" r="1.5" fill="#3a9a3a" filter="url(#b1)"/>
<circle cx="357" cy="327" r="1.3" fill="#6ab06a" filter="url(#b1)"/>
<circle cx="364" cy="330" r="1.4" fill="#4aa04a" filter="url(#b1)"/>
<circle cx="362" cy="335" r="1.2" fill="#5aa85a" filter="url(#b1)"/>
<circle cx="366" cy="313" r="1.4" fill="#3a963a" filter="url(#b1)"/>
<circle cx="365" cy="322" r="1.2" fill="#5aa85a" filter="url(#b1)"/>
<circle cx="399.5" cy="315" r="1.7" fill="#3a9a3a" filter="url(#b1)"/>
<circle cx="401" cy="320" r="1.4" fill="#4aa04a" filter="url(#b1)"/>
<circle cx="398" cy="326" r="1.2" fill="#6ab06a" filter="url(#b1)"/>
<circle cx="394" cy="331" r="1.2" fill="#6ab06a" filter="url(#b1)"/>
<circle cx="393" cy="336" r="1.0" fill="#8ac08a" filter="url(#b1)"/>
<circle cx="403" cy="313" r="1.0" fill="#6ab06a" filter="url(#b1)"/>
<circle cx="367" cy="338" r="1.0" fill="#7ab87a" filter="url(#b1)"/>
<path d="M363.90,303.44 C364.36,302.68 365.38,301.85 366.65,301.35 C367.91,300.84 370.00,300.41 371.49,300.41 C372.97,300.41 374.53,300.95 375.56,301.35 C376.59,301.74 377.53,302.20 377.65,302.78 C377.77,303.36 376.96,304.25 376.27,304.81 C375.59,305.38 374.56,305.73 373.52,306.19 C372.49,306.65 371.32,307.38 370.06,307.56 C368.80,307.75 367.02,307.56 365.99,307.29 C364.96,307.01 364.25,306.56 363.90,305.91 C363.55,305.27 363.44,304.20 363.90,303.44 Z" fill="#168c16" filter="url(#b1)"/>
<path d="M376.68,302.53 C377.26,301.57 379.14,300.62 380.86,300.16 C382.58,299.71 385.31,299.50 387.02,299.78 C388.73,300.05 390.00,300.90 391.15,301.81 C392.29,302.73 393.21,304.13 393.90,305.28 C394.58,306.42 395.15,307.55 395.27,308.69 C395.39,309.83 395.18,311.41 394.61,312.10 C394.04,312.79 392.90,312.92 391.86,312.81 C390.82,312.70 389.66,311.90 388.40,311.44 C387.13,310.98 385.65,310.52 384.27,310.06 C382.90,309.61 381.29,309.38 380.15,308.69 C379.00,308.00 377.97,306.97 377.40,305.94 C376.82,304.91 376.10,303.49 376.68,302.53 Z" fill="#168c16" filter="url(#b1)"/>
<path d="M388.57,315.62 C389.26,314.95 390.85,314.74 391.98,314.96 C393.12,315.19 394.59,316.08 395.39,317.00 C396.20,317.92 396.82,319.32 396.82,320.46 C396.82,321.61 396.20,323.20 395.39,323.88 C394.59,324.55 393.01,324.76 391.98,324.54 C390.96,324.31 389.92,323.42 389.23,322.50 C388.55,321.58 387.97,320.18 387.86,319.04 C387.75,317.89 387.89,316.30 388.57,315.62 Z" fill="#168c16" filter="url(#b1)"/>
<path d="M376.17,308.76 C376.45,309.00 376.37,312.89 376.83,314.26 C377.29,315.64 377.78,316.34 378.92,317.01 C380.07,317.69 382.22,317.54 383.71,318.33 C385.19,319.13 386.69,320.53 387.83,321.80 C388.98,323.06 390.01,324.32 390.58,325.92 C391.15,327.53 391.35,329.59 391.24,331.42 C391.13,333.26 390.72,335.32 389.92,336.92 C389.12,338.53 387.95,340.02 386.46,341.05 C384.96,342.08 382.79,342.85 380.96,343.08 C379.12,343.31 377.17,342.88 375.46,342.42 C373.74,341.97 371.82,341.48 370.67,340.33 C369.53,339.19 368.98,337.26 368.58,335.55 C368.19,333.83 368.20,331.88 368.31,330.05 C368.42,328.22 368.63,326.15 369.24,324.55 C369.86,322.94 371.14,321.68 371.99,320.42 C372.84,319.17 373.82,318.28 374.36,317.01 C374.89,315.75 374.88,314.21 375.18,312.83 C375.48,311.46 375.90,308.53 376.17,308.76 Z" fill="#168c16" filter="url(#b1)"/>
<path d="M392,311 L393,316" stroke="#168c16" stroke-width="2.5" filter="url(#b1)"/>
<ellipse cx="397.5" cy="326" rx="2.2" ry="1.6" fill="#2a902a" filter="url(#b1)"/>
<ellipse cx="366" cy="325" rx="1.6" ry="2.2" fill="#2a902a" filter="url(#b1)"/>
<ellipse cx="395" cy="310" rx="2" ry="1.5" fill="#2a902a" filter="url(#b1)"/>
<ellipse cx="362.5" cy="309" rx="1.5" ry="1.2" fill="#2a902a" filter="url(#b1)"/>
<rect x="204.05" y="225.6" width="62.45" height="62.4" fill="none" stroke="#222" stroke-width="2"/>
<rect x="204.05" y="292.2" width="62.45" height="62.4" fill="none" stroke="#222" stroke-width="2"/>
<rect x="275.7" y="225.6" width="62.45" height="62.4" fill="none" stroke="#222" stroke-width="2"/>
<rect x="275.7" y="292.2" width="62.45" height="62.4" fill="none" stroke="#222" stroke-width="2"/>
<rect x="348.05" y="225.6" width="62.45" height="62.4" fill="none" stroke="#222" stroke-width="2"/>
<rect x="348.05" y="292.2" width="62.45" height="62.4" fill="none" stroke="#222" stroke-width="2"/>
<text x="229.3" y="340" font-size="13" text-anchor="start" fill="#111" stroke="#111" stroke-width="0.3" textLength="29.3" lengthAdjust="spacingAndGlyphs">5 μm</text>
<line x1="226.5" y1="349.75" x2="264" y2="349.75" stroke="#111" stroke-width="2"/>
<text x="238.5" y="218.3" font-size="12.5" text-anchor="start" fill="#cc1f2a" font-weight="bold" textLength="29.4" lengthAdjust="spacingAndGlyphs">Ly6G</text>
<text x="276" y="218.3" font-size="12.5" text-anchor="start" fill="#111" font-weight="bold">/</text>
<text x="284.6" y="218.3" font-size="12.5" text-anchor="start" fill="#3345c0" font-weight="bold" textLength="35.4" lengthAdjust="spacingAndGlyphs">Draq5</text>
<text x="320.5" y="218.3" font-size="12.5" text-anchor="start" fill="#111" font-weight="bold">/</text>
<text x="329.8" y="218.3" font-size="12.5" text-anchor="start" fill="#2a8a38" font-weight="bold" textLength="44.5" lengthAdjust="spacingAndGlyphs">ICAM-1</text>
<text x="235" y="368.5" font-size="11.5" text-anchor="middle" fill="#111" stroke="#111" stroke-width="0.3" textLength="27.4" lengthAdjust="spacingAndGlyphs">Saline</text>
<text x="235.3" y="381.5" font-size="11.5" text-anchor="middle" fill="#111" stroke="#111" stroke-width="0.3" textLength="41.8" lengthAdjust="spacingAndGlyphs">(surface)</text>
<text x="306.6" y="368.5" font-size="11.5" text-anchor="middle" fill="#111" stroke="#111" stroke-width="0.3" textLength="27.4" lengthAdjust="spacingAndGlyphs">Saline</text>
<text x="306.7" y="381.5" font-size="11.5" text-anchor="middle" fill="#111" stroke="#111" stroke-width="0.3" textLength="71.3" lengthAdjust="spacingAndGlyphs">(permeablised)</text>
<text x="379.6" y="368.5" font-size="11.5" text-anchor="middle" fill="#111" stroke="#111" stroke-width="0.3" textLength="16.5" lengthAdjust="spacingAndGlyphs">LPS</text>
<text x="379.6" y="381.5" font-size="11.5" text-anchor="middle" fill="#111" stroke="#111" stroke-width="0.3" textLength="41.8" lengthAdjust="spacingAndGlyphs">(surface)</text>
</svg>
</body></html>
